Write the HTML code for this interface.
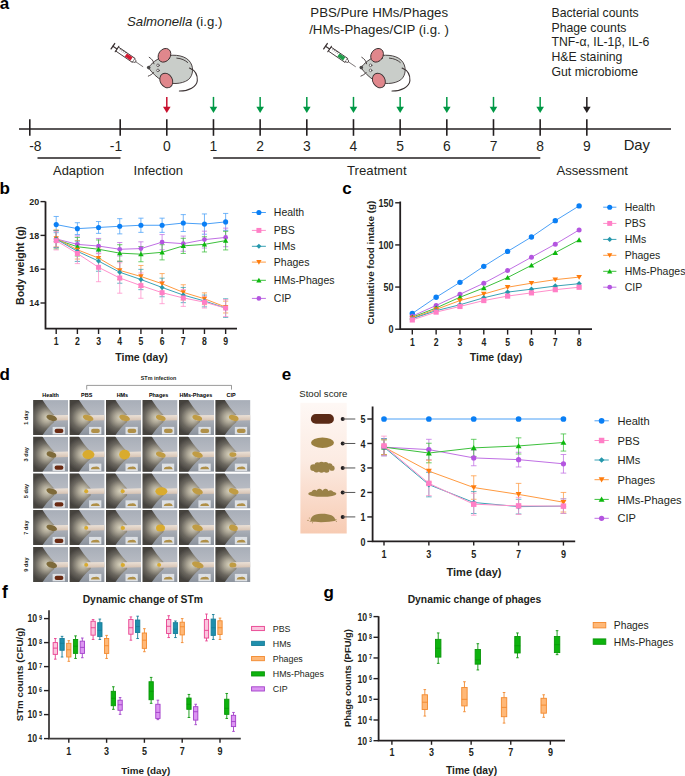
<!DOCTYPE html>
<html><head><meta charset="utf-8"><title>Figure</title>
<style>html,body{margin:0;padding:0;background:#fff;}body{width:685px;height:776px;overflow:hidden;}</style>
</head><body>
<svg width="685" height="776" viewBox="0 0 685 776" style="display:block">
<g font-family='"Liberation Sans", sans-serif'>
<text x="-0.30" y="9.20" font-size="17" font-weight="bold" text-anchor="start" fill="#000" >a</text>
<text x="127" y="26" font-size="13.2" fill="#231f20"><tspan font-style="italic">Salmonella</tspan> (i.g.)</text>
<text x="310.30" y="17.20" font-size="13.25" font-weight="normal" text-anchor="start" fill="#231f20" >PBS/Pure HMs/Phages</text>
<text x="309.20" y="33.70" font-size="13.25" font-weight="normal" text-anchor="start" fill="#231f20" >/HMs-Phages/CIP (i.g. )</text>
<text x="551.50" y="16.60" font-size="12.25" font-weight="normal" text-anchor="start" fill="#231f20" >Bacterial counts</text>
<text x="551.50" y="31.50" font-size="12.25" font-weight="normal" text-anchor="start" fill="#231f20" >Phage counts</text>
<text x="551.50" y="46.40" font-size="12.25" font-weight="normal" text-anchor="start" fill="#231f20" >TNF-&#945;, IL-1&#946;, IL-6</text>
<text x="551.50" y="61.30" font-size="12.25" font-weight="normal" text-anchor="start" fill="#231f20" >H&amp;E staining</text>
<text x="551.50" y="76.20" font-size="12.25" font-weight="normal" text-anchor="start" fill="#231f20" >Gut microbiome</text>
<g transform="translate(148.70,67.30)" stroke="#3a3132" stroke-linecap="round" stroke-linejoin="round">
<g transform="translate(-35.8,-21.1) rotate(34.3)">
<line x1="0" y1="-3.2" x2="0" y2="3.2" stroke-width="1.3"/>
<line x1="0" y1="0" x2="5" y2="0" stroke-width="1.1"/>
<line x1="5" y1="-3.3" x2="5" y2="3.3" stroke-width="1.1"/>
<rect x="5.6" y="-2.4" width="19.6" height="4.8" fill="#ffffff" stroke-width="0.85"/>
<rect x="15.6" y="-1.9" width="7" height="3.8" fill="#d41a32" stroke="none"/>
<line x1="8" y1="-2.4" x2="8" y2="-0.9" stroke-width="0.5"/>
<line x1="10" y1="-2.4" x2="10" y2="-0.9" stroke-width="0.5"/>
<line x1="12" y1="-2.4" x2="12" y2="-0.9" stroke-width="0.5"/>
<line x1="14" y1="-2.4" x2="14" y2="-0.9" stroke-width="0.5"/>
<path d="M25.2 -1.7 L27.6 -0.9 L27.6 0.9 L25.2 1.7" fill="#fff" stroke-width="0.7"/>
<line x1="27.6" y1="0" x2="36.2" y2="0" stroke-width="0.6"/>
</g>
<path d="M-0.4 0.3 C3 -4 8 -8.5 14 -10.5 C22 -13 34 -13 40 -7 C45.5 -1.5 45 8 39.5 12.5 C33 17 22 17.5 14 13.5 C8 10.5 3 5 -0.4 0.3 Z" fill="#c9cdc9" stroke-width="0.9"/>
<path d="M40.8 0.8 C46 3 49 8 48.6 13.5 C48 19.5 40 23.8 30.7 23.7" fill="none" stroke-width="1.1"/>
<path d="M28.1 -9.2 C33 -8.8 36.5 -7 39 -4.8" fill="none" stroke-width="0.9"/>
<ellipse cx="15.8" cy="-12.0" rx="5.9" ry="7.3" transform="rotate(35 15.8 -12.0)" fill="#e0878c" stroke-width="0.9"/>
<ellipse cx="17.6" cy="13.2" rx="6.1" ry="7.6" transform="rotate(-30 17.6 13.2)" fill="#e0878c" stroke-width="0.9"/>
<circle cx="9.3" cy="-2.0" r="1.3" fill="#fff" stroke-width="0.7"/>
<circle cx="9.3" cy="3.1" r="1.3" fill="#fff" stroke-width="0.7"/>
<circle cx="0" cy="0.3" r="1.8" fill="#4a4848" stroke="none"/>
<path d="M0.5 -10 C3 -8.5 4.8 -6.5 5.3 -3.5" fill="none" stroke-width="0.9"/>
<path d="M-0.4 8.8 C1.5 8 3.5 7 4.9 5.2" fill="none" stroke-width="0.9"/>
</g>
<g transform="translate(361.30,67.30)" stroke="#3a3132" stroke-linecap="round" stroke-linejoin="round">
<g transform="translate(-35.8,-21.1) rotate(34.3)">
<line x1="0" y1="-3.2" x2="0" y2="3.2" stroke-width="1.3"/>
<line x1="0" y1="0" x2="5" y2="0" stroke-width="1.1"/>
<line x1="5" y1="-3.3" x2="5" y2="3.3" stroke-width="1.1"/>
<rect x="5.6" y="-2.4" width="19.6" height="4.8" fill="#ffffff" stroke-width="0.85"/>
<rect x="15.6" y="-1.9" width="7" height="3.8" fill="#1f9e4a" stroke="none"/>
<line x1="8" y1="-2.4" x2="8" y2="-0.9" stroke-width="0.5"/>
<line x1="10" y1="-2.4" x2="10" y2="-0.9" stroke-width="0.5"/>
<line x1="12" y1="-2.4" x2="12" y2="-0.9" stroke-width="0.5"/>
<line x1="14" y1="-2.4" x2="14" y2="-0.9" stroke-width="0.5"/>
<path d="M25.2 -1.7 L27.6 -0.9 L27.6 0.9 L25.2 1.7" fill="#fff" stroke-width="0.7"/>
<line x1="27.6" y1="0" x2="36.2" y2="0" stroke-width="0.6"/>
</g>
<path d="M-0.4 0.3 C3 -4 8 -8.5 14 -10.5 C22 -13 34 -13 40 -7 C45.5 -1.5 45 8 39.5 12.5 C33 17 22 17.5 14 13.5 C8 10.5 3 5 -0.4 0.3 Z" fill="#c9cdc9" stroke-width="0.9"/>
<path d="M40.8 0.8 C46 3 49 8 48.6 13.5 C48 19.5 40 23.8 30.7 23.7" fill="none" stroke-width="1.1"/>
<path d="M28.1 -9.2 C33 -8.8 36.5 -7 39 -4.8" fill="none" stroke-width="0.9"/>
<ellipse cx="15.8" cy="-12.0" rx="5.9" ry="7.3" transform="rotate(35 15.8 -12.0)" fill="#e0878c" stroke-width="0.9"/>
<ellipse cx="17.6" cy="13.2" rx="6.1" ry="7.6" transform="rotate(-30 17.6 13.2)" fill="#e0878c" stroke-width="0.9"/>
<circle cx="9.3" cy="-2.0" r="1.3" fill="#fff" stroke-width="0.7"/>
<circle cx="9.3" cy="3.1" r="1.3" fill="#fff" stroke-width="0.7"/>
<circle cx="0" cy="0.3" r="1.8" fill="#4a4848" stroke="none"/>
<path d="M0.5 -10 C3 -8.5 4.8 -6.5 5.3 -3.5" fill="none" stroke-width="0.9"/>
<path d="M-0.4 8.8 C1.5 8 3.5 7 4.9 5.2" fill="none" stroke-width="0.9"/>
</g>
<line x1="19.00" y1="129.00" x2="671.00" y2="129.00" stroke="#231f20" stroke-width="1.6" />
<line x1="29.80" y1="119.20" x2="29.80" y2="135.80" stroke="#231f20" stroke-width="1.6" />
<text transform="translate(29.20 151.10) scale(0.97 1)" font-size="14.3" font-weight="normal" text-anchor="start" fill="#231f20">-8</text>
<line x1="120.20" y1="119.20" x2="120.20" y2="135.80" stroke="#231f20" stroke-width="1.6" />
<text transform="translate(122.10 151.10) scale(0.97 1)" font-size="14.3" font-weight="normal" text-anchor="end" fill="#231f20">-1</text>
<line x1="166.80" y1="119.20" x2="166.80" y2="135.80" stroke="#231f20" stroke-width="1.6" />
<text transform="translate(166.80 151.10) scale(0.97 1)" font-size="14.3" font-weight="normal" text-anchor="middle" fill="#231f20">0</text>
<line x1="213.47" y1="119.20" x2="213.47" y2="135.80" stroke="#231f20" stroke-width="1.6" />
<text transform="translate(213.47 151.10) scale(0.97 1)" font-size="14.3" font-weight="normal" text-anchor="middle" fill="#231f20">1</text>
<line x1="260.14" y1="119.20" x2="260.14" y2="135.80" stroke="#231f20" stroke-width="1.6" />
<text transform="translate(260.14 151.10) scale(0.97 1)" font-size="14.3" font-weight="normal" text-anchor="middle" fill="#231f20">2</text>
<line x1="306.81" y1="119.20" x2="306.81" y2="135.80" stroke="#231f20" stroke-width="1.6" />
<text transform="translate(306.81 151.10) scale(0.97 1)" font-size="14.3" font-weight="normal" text-anchor="middle" fill="#231f20">3</text>
<line x1="353.48" y1="119.20" x2="353.48" y2="135.80" stroke="#231f20" stroke-width="1.6" />
<text transform="translate(353.48 151.10) scale(0.97 1)" font-size="14.3" font-weight="normal" text-anchor="middle" fill="#231f20">4</text>
<line x1="400.15" y1="119.20" x2="400.15" y2="135.80" stroke="#231f20" stroke-width="1.6" />
<text transform="translate(400.15 151.10) scale(0.97 1)" font-size="14.3" font-weight="normal" text-anchor="middle" fill="#231f20">5</text>
<line x1="446.82" y1="119.20" x2="446.82" y2="135.80" stroke="#231f20" stroke-width="1.6" />
<text transform="translate(446.82 151.10) scale(0.97 1)" font-size="14.3" font-weight="normal" text-anchor="middle" fill="#231f20">6</text>
<line x1="493.49" y1="119.20" x2="493.49" y2="135.80" stroke="#231f20" stroke-width="1.6" />
<text transform="translate(493.49 151.10) scale(0.97 1)" font-size="14.3" font-weight="normal" text-anchor="middle" fill="#231f20">7</text>
<line x1="540.16" y1="119.20" x2="540.16" y2="135.80" stroke="#231f20" stroke-width="1.6" />
<text transform="translate(540.16 151.10) scale(0.97 1)" font-size="14.3" font-weight="normal" text-anchor="middle" fill="#231f20">8</text>
<line x1="586.83" y1="119.20" x2="586.83" y2="135.80" stroke="#231f20" stroke-width="1.6" />
<text transform="translate(586.83 151.10) scale(0.97 1)" font-size="14.3" font-weight="normal" text-anchor="middle" fill="#231f20">9</text>
<text x="623.70" y="150.20" font-size="14.8" font-weight="normal" text-anchor="start" fill="#231f20" >Day</text>
<line x1="166.80" y1="96.90" x2="166.80" y2="108.50" stroke="#c8102e" stroke-width="1.5" />
<path d="M163.00 106.8 L170.60 106.8 L166.80 113.0 Z" fill="#c8102e"/>
<line x1="213.47" y1="96.90" x2="213.47" y2="108.50" stroke="#009845" stroke-width="1.5" />
<path d="M209.67 106.8 L217.27 106.8 L213.47 113.0 Z" fill="#009845"/>
<line x1="260.14" y1="96.90" x2="260.14" y2="108.50" stroke="#009845" stroke-width="1.5" />
<path d="M256.34 106.8 L263.94 106.8 L260.14 113.0 Z" fill="#009845"/>
<line x1="306.81" y1="96.90" x2="306.81" y2="108.50" stroke="#009845" stroke-width="1.5" />
<path d="M303.01 106.8 L310.61 106.8 L306.81 113.0 Z" fill="#009845"/>
<line x1="353.48" y1="96.90" x2="353.48" y2="108.50" stroke="#009845" stroke-width="1.5" />
<path d="M349.68 106.8 L357.28 106.8 L353.48 113.0 Z" fill="#009845"/>
<line x1="400.15" y1="96.90" x2="400.15" y2="108.50" stroke="#009845" stroke-width="1.5" />
<path d="M396.35 106.8 L403.95 106.8 L400.15 113.0 Z" fill="#009845"/>
<line x1="446.82" y1="96.90" x2="446.82" y2="108.50" stroke="#009845" stroke-width="1.5" />
<path d="M443.02 106.8 L450.62 106.8 L446.82 113.0 Z" fill="#009845"/>
<line x1="493.49" y1="96.90" x2="493.49" y2="108.50" stroke="#009845" stroke-width="1.5" />
<path d="M489.69 106.8 L497.29 106.8 L493.49 113.0 Z" fill="#009845"/>
<line x1="540.16" y1="96.90" x2="540.16" y2="108.50" stroke="#009845" stroke-width="1.5" />
<path d="M536.36 106.8 L543.96 106.8 L540.16 113.0 Z" fill="#009845"/>
<line x1="586.83" y1="96.90" x2="586.83" y2="108.50" stroke="#231f20" stroke-width="1.5" />
<path d="M583.03 106.8 L590.63 106.8 L586.83 113.0 Z" fill="#231f20"/>
<line x1="37.50" y1="158.00" x2="120.50" y2="158.00" stroke="#231f20" stroke-width="1.5" />
<line x1="213.20" y1="158.00" x2="540.30" y2="158.00" stroke="#231f20" stroke-width="1.5" />
<text x="53.00" y="174.70" font-size="12.95" font-weight="normal" text-anchor="start" fill="#231f20" >Adaption</text>
<text x="133.50" y="174.70" font-size="13.1" font-weight="normal" text-anchor="start" fill="#231f20" >Infection</text>
<text x="347.00" y="174.70" font-size="13.2" font-weight="normal" text-anchor="start" fill="#231f20" >Treatment</text>
<text x="556.40" y="174.70" font-size="13.15" font-weight="normal" text-anchor="start" fill="#231f20" >Assessment</text>
<text x="-0.40" y="193.60" font-size="17" font-weight="bold" text-anchor="start" fill="#000" >b</text>
<path d="M45.5 201.6 V328.6 H237" fill="none" stroke="#231f20" stroke-width="1.8"/>
<line x1="40.50" y1="201.60" x2="45.50" y2="201.60" stroke="#231f20" stroke-width="1.4" />
<text transform="translate(39.10 204.80) scale(0.9 1)" font-size="9.9" font-weight="bold" text-anchor="end" fill="#231f20">20</text>
<line x1="40.50" y1="235.40" x2="45.50" y2="235.40" stroke="#231f20" stroke-width="1.4" />
<text transform="translate(39.10 238.60) scale(0.9 1)" font-size="9.9" font-weight="bold" text-anchor="end" fill="#231f20">18</text>
<line x1="40.50" y1="269.20" x2="45.50" y2="269.20" stroke="#231f20" stroke-width="1.4" />
<text transform="translate(39.10 272.40) scale(0.9 1)" font-size="9.9" font-weight="bold" text-anchor="end" fill="#231f20">16</text>
<line x1="40.50" y1="303.00" x2="45.50" y2="303.00" stroke="#231f20" stroke-width="1.4" />
<text transform="translate(39.10 306.20) scale(0.9 1)" font-size="9.9" font-weight="bold" text-anchor="end" fill="#231f20">14</text>
<line x1="56.20" y1="328.60" x2="56.20" y2="334.00" stroke="#231f20" stroke-width="1.4" />
<text transform="translate(56.20 345.40) scale(0.86 1)" font-size="10.1" font-weight="bold" text-anchor="middle" fill="#231f20">1</text>
<line x1="77.38" y1="328.60" x2="77.38" y2="334.00" stroke="#231f20" stroke-width="1.4" />
<text transform="translate(77.38 345.40) scale(0.86 1)" font-size="10.1" font-weight="bold" text-anchor="middle" fill="#231f20">2</text>
<line x1="98.56" y1="328.60" x2="98.56" y2="334.00" stroke="#231f20" stroke-width="1.4" />
<text transform="translate(98.56 345.40) scale(0.86 1)" font-size="10.1" font-weight="bold" text-anchor="middle" fill="#231f20">3</text>
<line x1="119.74" y1="328.60" x2="119.74" y2="334.00" stroke="#231f20" stroke-width="1.4" />
<text transform="translate(119.74 345.40) scale(0.86 1)" font-size="10.1" font-weight="bold" text-anchor="middle" fill="#231f20">4</text>
<line x1="140.92" y1="328.60" x2="140.92" y2="334.00" stroke="#231f20" stroke-width="1.4" />
<text transform="translate(140.92 345.40) scale(0.86 1)" font-size="10.1" font-weight="bold" text-anchor="middle" fill="#231f20">5</text>
<line x1="162.10" y1="328.60" x2="162.10" y2="334.00" stroke="#231f20" stroke-width="1.4" />
<text transform="translate(162.10 345.40) scale(0.86 1)" font-size="10.1" font-weight="bold" text-anchor="middle" fill="#231f20">6</text>
<line x1="183.28" y1="328.60" x2="183.28" y2="334.00" stroke="#231f20" stroke-width="1.4" />
<text transform="translate(183.28 345.40) scale(0.86 1)" font-size="10.1" font-weight="bold" text-anchor="middle" fill="#231f20">7</text>
<line x1="204.46" y1="328.60" x2="204.46" y2="334.00" stroke="#231f20" stroke-width="1.4" />
<text transform="translate(204.46 345.40) scale(0.86 1)" font-size="10.1" font-weight="bold" text-anchor="middle" fill="#231f20">8</text>
<line x1="225.64" y1="328.60" x2="225.64" y2="334.00" stroke="#231f20" stroke-width="1.4" />
<text transform="translate(225.64 345.40) scale(0.86 1)" font-size="10.1" font-weight="bold" text-anchor="middle" fill="#231f20">9</text>
<text x="141.50" y="360.60" font-size="10.55" font-weight="bold" text-anchor="middle" fill="#231f20" >Time (day)</text>
<text transform="translate(23.6 265.5) rotate(-90)" font-size="10.5" font-weight="bold" text-anchor="middle" fill="#231f20">Body weight (g)</text>
<path d="M56.20 216.47V232.70M53.60 216.47h5.2M53.60 232.70h5.2" stroke="#4aa0f7" stroke-width="0.85" fill="none" opacity="0.9"/>
<path d="M77.38 222.72V234.56M74.78 222.72h5.2M74.78 234.56h5.2" stroke="#4aa0f7" stroke-width="0.85" fill="none" opacity="0.9"/>
<path d="M98.56 221.54V233.37M95.96 221.54h5.2M95.96 233.37h5.2" stroke="#4aa0f7" stroke-width="0.85" fill="none" opacity="0.9"/>
<path d="M119.74 218.67V233.88M117.14 218.67h5.2M117.14 233.88h5.2" stroke="#4aa0f7" stroke-width="0.85" fill="none" opacity="0.9"/>
<path d="M140.92 218.16V232.36M138.32 218.16h5.2M138.32 232.36h5.2" stroke="#4aa0f7" stroke-width="0.85" fill="none" opacity="0.9"/>
<path d="M162.10 218.16V232.36M159.50 218.16h5.2M159.50 232.36h5.2" stroke="#4aa0f7" stroke-width="0.85" fill="none" opacity="0.9"/>
<path d="M183.28 214.61V231.51M180.68 214.61h5.2M180.68 231.51h5.2" stroke="#4aa0f7" stroke-width="0.85" fill="none" opacity="0.9"/>
<path d="M204.46 213.94V234.22M201.86 213.94h5.2M201.86 234.22h5.2" stroke="#4aa0f7" stroke-width="0.85" fill="none" opacity="0.9"/>
<path d="M225.64 213.43V230.33M223.04 213.43h5.2M223.04 230.33h5.2" stroke="#4aa0f7" stroke-width="0.85" fill="none" opacity="0.9"/>
<path d="M56.20 230.50V247.40M53.60 230.50h5.2M53.60 247.40h5.2" stroke="#c070e4" stroke-width="0.85" fill="none" opacity="0.9"/>
<path d="M77.38 235.91V252.81M74.78 235.91h5.2M74.78 252.81h5.2" stroke="#c070e4" stroke-width="0.85" fill="none" opacity="0.9"/>
<path d="M98.56 238.44V253.65M95.96 238.44h5.2M95.96 253.65h5.2" stroke="#c070e4" stroke-width="0.85" fill="none" opacity="0.9"/>
<path d="M119.74 242.50V256.02M117.14 242.50h5.2M117.14 256.02h5.2" stroke="#c070e4" stroke-width="0.85" fill="none" opacity="0.9"/>
<path d="M140.92 241.82V255.34M138.32 241.82h5.2M138.32 255.34h5.2" stroke="#c070e4" stroke-width="0.85" fill="none" opacity="0.9"/>
<path d="M162.10 234.55V249.76M159.50 234.55h5.2M159.50 249.76h5.2" stroke="#c070e4" stroke-width="0.85" fill="none" opacity="0.9"/>
<path d="M183.28 236.08V251.29M180.68 236.08h5.2M180.68 251.29h5.2" stroke="#c070e4" stroke-width="0.85" fill="none" opacity="0.9"/>
<path d="M204.46 231.17V248.07M201.86 231.17h5.2M201.86 248.07h5.2" stroke="#c070e4" stroke-width="0.85" fill="none" opacity="0.9"/>
<path d="M225.64 228.13V246.72M223.04 228.13h5.2M223.04 246.72h5.2" stroke="#c070e4" stroke-width="0.85" fill="none" opacity="0.9"/>
<path d="M56.20 230.33V248.92M53.60 230.33h5.2M53.60 248.92h5.2" stroke="#3cc03c" stroke-width="0.85" fill="none" opacity="0.9"/>
<path d="M77.38 237.43V256.02M74.78 237.43h5.2M74.78 256.02h5.2" stroke="#3cc03c" stroke-width="0.85" fill="none" opacity="0.9"/>
<path d="M98.56 239.96V258.55M95.96 239.96h5.2M95.96 258.55h5.2" stroke="#3cc03c" stroke-width="0.85" fill="none" opacity="0.9"/>
<path d="M119.74 244.69V261.60M117.14 244.69h5.2M117.14 261.60h5.2" stroke="#3cc03c" stroke-width="0.85" fill="none" opacity="0.9"/>
<path d="M140.92 246.55V261.76M138.32 246.55h5.2M138.32 261.76h5.2" stroke="#3cc03c" stroke-width="0.85" fill="none" opacity="0.9"/>
<path d="M162.10 244.69V259.90M159.50 244.69h5.2M159.50 259.90h5.2" stroke="#3cc03c" stroke-width="0.85" fill="none" opacity="0.9"/>
<path d="M183.28 238.27V253.48M180.68 238.27h5.2M180.68 253.48h5.2" stroke="#3cc03c" stroke-width="0.85" fill="none" opacity="0.9"/>
<path d="M204.46 236.75V251.96M201.86 236.75h5.2M201.86 251.96h5.2" stroke="#3cc03c" stroke-width="0.85" fill="none" opacity="0.9"/>
<path d="M225.64 231.34V249.93M223.04 231.34h5.2M223.04 249.93h5.2" stroke="#3cc03c" stroke-width="0.85" fill="none" opacity="0.9"/>
<path d="M56.20 229.99V246.89M53.60 229.99h5.2M53.60 246.89h5.2" stroke="#ff9a40" stroke-width="0.85" fill="none" opacity="0.9"/>
<path d="M77.38 240.47V259.06M74.78 240.47h5.2M74.78 259.06h5.2" stroke="#ff9a40" stroke-width="0.85" fill="none" opacity="0.9"/>
<path d="M98.56 247.91V268.19M95.96 247.91h5.2M95.96 268.19h5.2" stroke="#ff9a40" stroke-width="0.85" fill="none" opacity="0.9"/>
<path d="M119.74 261.09V279.68M117.14 261.09h5.2M117.14 279.68h5.2" stroke="#ff9a40" stroke-width="0.85" fill="none" opacity="0.9"/>
<path d="M140.92 265.48V287.45M138.32 265.48h5.2M138.32 287.45h5.2" stroke="#ff9a40" stroke-width="0.85" fill="none" opacity="0.9"/>
<path d="M162.10 273.59V293.87M159.50 273.59h5.2M159.50 293.87h5.2" stroke="#ff9a40" stroke-width="0.85" fill="none" opacity="0.9"/>
<path d="M183.28 284.75V299.96M180.68 284.75h5.2M180.68 299.96h5.2" stroke="#ff9a40" stroke-width="0.85" fill="none" opacity="0.9"/>
<path d="M204.46 292.86V304.69M201.86 292.86h5.2M201.86 304.69h5.2" stroke="#ff9a40" stroke-width="0.85" fill="none" opacity="0.9"/>
<path d="M225.64 301.14V312.97M223.04 301.14h5.2M223.04 312.97h5.2" stroke="#ff9a40" stroke-width="0.85" fill="none" opacity="0.9"/>
<path d="M56.20 230.67V247.57M53.60 230.67h5.2M53.60 247.57h5.2" stroke="#3aa2b5" stroke-width="0.85" fill="none" opacity="0.9"/>
<path d="M77.38 241.15V261.43M74.78 241.15h5.2M74.78 261.43h5.2" stroke="#3aa2b5" stroke-width="0.85" fill="none" opacity="0.9"/>
<path d="M98.56 250.95V271.23M95.96 250.95h5.2M95.96 271.23h5.2" stroke="#3aa2b5" stroke-width="0.85" fill="none" opacity="0.9"/>
<path d="M119.74 261.26V283.23M117.14 261.26h5.2M117.14 283.23h5.2" stroke="#3aa2b5" stroke-width="0.85" fill="none" opacity="0.9"/>
<path d="M140.92 269.37V289.65M138.32 269.37h5.2M138.32 289.65h5.2" stroke="#3aa2b5" stroke-width="0.85" fill="none" opacity="0.9"/>
<path d="M162.10 278.16V296.75M159.50 278.16h5.2M159.50 296.75h5.2" stroke="#3aa2b5" stroke-width="0.85" fill="none" opacity="0.9"/>
<path d="M183.28 287.45V302.66M180.68 287.45h5.2M180.68 302.66h5.2" stroke="#3aa2b5" stroke-width="0.85" fill="none" opacity="0.9"/>
<path d="M204.46 295.06V306.89M201.86 295.06h5.2M201.86 306.89h5.2" stroke="#3aa2b5" stroke-width="0.85" fill="none" opacity="0.9"/>
<path d="M225.64 298.77V317.37M223.04 298.77h5.2M223.04 317.37h5.2" stroke="#3aa2b5" stroke-width="0.85" fill="none" opacity="0.9"/>
<path d="M56.20 231.34V249.93M53.60 231.34h5.2M53.60 249.93h5.2" stroke="#ff8fcb" stroke-width="0.85" fill="none" opacity="0.9"/>
<path d="M77.38 243.34V263.62M74.78 243.34h5.2M74.78 263.62h5.2" stroke="#ff8fcb" stroke-width="0.85" fill="none" opacity="0.9"/>
<path d="M98.56 252.98V281.71M95.96 252.98h5.2M95.96 281.71h5.2" stroke="#ff8fcb" stroke-width="0.85" fill="none" opacity="0.9"/>
<path d="M119.74 262.78V293.20M117.14 262.78h5.2M117.14 293.20h5.2" stroke="#ff8fcb" stroke-width="0.85" fill="none" opacity="0.9"/>
<path d="M140.92 272.92V298.27M138.32 272.92h5.2M138.32 298.27h5.2" stroke="#ff8fcb" stroke-width="0.85" fill="none" opacity="0.9"/>
<path d="M162.10 281.71V303.68M159.50 281.71h5.2M159.50 303.68h5.2" stroke="#ff8fcb" stroke-width="0.85" fill="none" opacity="0.9"/>
<path d="M183.28 289.48V306.38M180.68 289.48h5.2M180.68 306.38h5.2" stroke="#ff8fcb" stroke-width="0.85" fill="none" opacity="0.9"/>
<path d="M204.46 296.24V308.07M201.86 296.24h5.2M201.86 308.07h5.2" stroke="#ff8fcb" stroke-width="0.85" fill="none" opacity="0.9"/>
<path d="M225.64 299.62V316.52M223.04 299.62h5.2M223.04 316.52h5.2" stroke="#ff8fcb" stroke-width="0.85" fill="none" opacity="0.9"/>
<polyline points="56.20,224.58 77.38,228.64 98.56,227.46 119.74,226.27 140.92,225.26 162.10,225.26 183.28,223.06 204.46,224.08 225.64,221.88" fill="none" stroke="#4aa0f7" stroke-width="1"/>
<circle cx="56.20" cy="224.58" r="2.56" fill="#0a7ff5"/>
<circle cx="77.38" cy="228.64" r="2.56" fill="#0a7ff5"/>
<circle cx="98.56" cy="227.46" r="2.56" fill="#0a7ff5"/>
<circle cx="119.74" cy="226.27" r="2.56" fill="#0a7ff5"/>
<circle cx="140.92" cy="225.26" r="2.56" fill="#0a7ff5"/>
<circle cx="162.10" cy="225.26" r="2.56" fill="#0a7ff5"/>
<circle cx="183.28" cy="223.06" r="2.56" fill="#0a7ff5"/>
<circle cx="204.46" cy="224.08" r="2.56" fill="#0a7ff5"/>
<circle cx="225.64" cy="221.88" r="2.56" fill="#0a7ff5"/>
<polyline points="56.20,238.95 77.38,244.36 98.56,246.05 119.74,249.26 140.92,248.58 162.10,242.16 183.28,243.68 204.46,239.62 225.64,237.43" fill="none" stroke="#c070e4" stroke-width="1"/>
<circle cx="56.20" cy="238.95" r="2.38" fill="#b455e0"/>
<circle cx="77.38" cy="244.36" r="2.38" fill="#b455e0"/>
<circle cx="98.56" cy="246.05" r="2.38" fill="#b455e0"/>
<circle cx="119.74" cy="249.26" r="2.38" fill="#b455e0"/>
<circle cx="140.92" cy="248.58" r="2.38" fill="#b455e0"/>
<circle cx="162.10" cy="242.16" r="2.38" fill="#b455e0"/>
<circle cx="183.28" cy="243.68" r="2.38" fill="#b455e0"/>
<circle cx="204.46" cy="239.62" r="2.38" fill="#b455e0"/>
<circle cx="225.64" cy="237.43" r="2.38" fill="#b455e0"/>
<polyline points="56.20,239.62 77.38,246.72 98.56,249.26 119.74,253.15 140.92,254.16 162.10,252.30 183.28,245.88 204.46,244.36 225.64,240.64" fill="none" stroke="#3cc03c" stroke-width="1"/>
<path d="M53.54 241.75L58.86 241.75L56.20 237.10Z" fill="#0db80d"/>
<path d="M74.72 248.85L80.04 248.85L77.38 244.20Z" fill="#0db80d"/>
<path d="M95.90 251.39L101.22 251.39L98.56 246.73Z" fill="#0db80d"/>
<path d="M117.08 255.27L122.40 255.27L119.74 250.62Z" fill="#0db80d"/>
<path d="M138.26 256.29L143.58 256.29L140.92 251.63Z" fill="#0db80d"/>
<path d="M159.44 254.43L164.76 254.43L162.10 249.77Z" fill="#0db80d"/>
<path d="M180.62 248.01L185.94 248.01L183.28 243.35Z" fill="#0db80d"/>
<path d="M201.80 246.48L207.12 246.48L204.46 241.83Z" fill="#0db80d"/>
<path d="M222.98 242.77L228.30 242.77L225.64 238.11Z" fill="#0db80d"/>
<polyline points="56.20,238.44 77.38,249.77 98.56,258.05 119.74,270.38 140.92,276.47 162.10,283.73 183.28,292.35 204.46,298.77 225.64,307.06" fill="none" stroke="#ff9a40" stroke-width="1"/>
<path d="M53.54 236.31L58.86 236.31L56.20 240.97Z" fill="#ff7c0c"/>
<path d="M74.72 247.64L80.04 247.64L77.38 252.29Z" fill="#ff7c0c"/>
<path d="M95.90 255.92L101.22 255.92L98.56 260.57Z" fill="#ff7c0c"/>
<path d="M117.08 268.25L122.40 268.25L119.74 272.91Z" fill="#ff7c0c"/>
<path d="M138.26 274.34L143.58 274.34L140.92 278.99Z" fill="#ff7c0c"/>
<path d="M159.44 281.61L164.76 281.61L162.10 286.26Z" fill="#ff7c0c"/>
<path d="M180.62 290.22L185.94 290.22L183.28 294.88Z" fill="#ff7c0c"/>
<path d="M201.80 296.65L207.12 296.65L204.46 301.30Z" fill="#ff7c0c"/>
<path d="M222.98 304.93L228.30 304.93L225.64 309.58Z" fill="#ff7c0c"/>
<polyline points="56.20,239.12 77.38,251.29 98.56,261.09 119.74,272.24 140.92,279.51 162.10,287.45 183.28,295.06 204.46,300.97 225.64,308.07" fill="none" stroke="#3aa2b5" stroke-width="1"/>
<path d="M56.20 236.55L58.77 239.12L56.20 241.68L53.64 239.12Z" fill="#2597ab"/>
<path d="M77.38 248.72L79.94 251.29L77.38 253.85L74.81 251.29Z" fill="#2597ab"/>
<path d="M98.56 258.52L101.12 261.09L98.56 263.65L96.00 261.09Z" fill="#2597ab"/>
<path d="M119.74 269.68L122.31 272.24L119.74 274.81L117.18 272.24Z" fill="#2597ab"/>
<path d="M140.92 276.94L143.49 279.51L140.92 282.07L138.36 279.51Z" fill="#2597ab"/>
<path d="M162.10 284.89L164.67 287.45L162.10 290.02L159.54 287.45Z" fill="#2597ab"/>
<path d="M183.28 292.49L185.84 295.06L183.28 297.62L180.72 295.06Z" fill="#2597ab"/>
<path d="M204.46 298.41L207.02 300.97L204.46 303.54L201.89 300.97Z" fill="#2597ab"/>
<path d="M225.64 305.50L228.20 308.07L225.64 310.63L223.07 308.07Z" fill="#2597ab"/>
<polyline points="56.20,240.64 77.38,253.48 98.56,267.34 119.74,277.99 140.92,285.59 162.10,292.69 183.28,297.93 204.46,302.15 225.64,308.07" fill="none" stroke="#ff8fcb" stroke-width="1"/>
<rect x="53.73" y="238.17" width="4.94" height="4.94" fill="#ff7fc6"/>
<rect x="74.91" y="251.01" width="4.94" height="4.94" fill="#ff7fc6"/>
<rect x="96.09" y="264.87" width="4.94" height="4.94" fill="#ff7fc6"/>
<rect x="117.27" y="275.52" width="4.94" height="4.94" fill="#ff7fc6"/>
<rect x="138.45" y="283.12" width="4.94" height="4.94" fill="#ff7fc6"/>
<rect x="159.63" y="290.22" width="4.94" height="4.94" fill="#ff7fc6"/>
<rect x="180.81" y="295.46" width="4.94" height="4.94" fill="#ff7fc6"/>
<rect x="201.99" y="299.68" width="4.94" height="4.94" fill="#ff7fc6"/>
<rect x="223.17" y="305.60" width="4.94" height="4.94" fill="#ff7fc6"/>
<line x1="251.90" y1="212.50" x2="265.90" y2="212.50" stroke="#4aa0f7" stroke-width="1" />
<circle cx="258.90" cy="212.50" r="2.56" fill="#0a7ff5"/>
<text x="273.80" y="216.10" font-size="10.5" font-weight="normal" text-anchor="start" fill="#231f20" >Health</text>
<line x1="251.90" y1="230.40" x2="265.90" y2="230.40" stroke="#ff8fcb" stroke-width="1" />
<rect x="256.43" y="227.93" width="4.94" height="4.94" fill="#ff7fc6"/>
<text x="273.80" y="234.00" font-size="10.5" font-weight="normal" text-anchor="start" fill="#231f20" >PBS</text>
<line x1="251.90" y1="246.30" x2="265.90" y2="246.30" stroke="#3aa2b5" stroke-width="1" />
<path d="M258.90 243.74L261.46 246.30L258.90 248.87L256.33 246.30Z" fill="#2597ab"/>
<text x="273.80" y="249.90" font-size="10.5" font-weight="normal" text-anchor="start" fill="#231f20" >HMs</text>
<line x1="251.90" y1="262.10" x2="265.90" y2="262.10" stroke="#ff9a40" stroke-width="1" />
<path d="M256.24 259.97L261.56 259.97L258.90 264.63Z" fill="#ff7c0c"/>
<text x="273.80" y="265.70" font-size="10.5" font-weight="normal" text-anchor="start" fill="#231f20" >Phages</text>
<line x1="251.90" y1="280.30" x2="265.90" y2="280.30" stroke="#3cc03c" stroke-width="1" />
<path d="M256.24 282.43L261.56 282.43L258.90 277.77Z" fill="#0db80d"/>
<text x="273.80" y="283.90" font-size="10.5" font-weight="normal" text-anchor="start" fill="#231f20" >HMs-Phages</text>
<line x1="251.90" y1="298.40" x2="265.90" y2="298.40" stroke="#c070e4" stroke-width="1" />
<circle cx="258.90" cy="298.40" r="2.38" fill="#b455e0"/>
<text x="273.80" y="302.00" font-size="10.5" font-weight="normal" text-anchor="start" fill="#231f20" >CIP</text>
<text x="342.20" y="193.80" font-size="17" font-weight="bold" text-anchor="start" fill="#000" >c</text>
<path d="M400.2 201.5 V329.2 H592" fill="none" stroke="#231f20" stroke-width="1.8"/>
<line x1="395.20" y1="329.20" x2="400.20" y2="329.20" stroke="#231f20" stroke-width="1.4" />
<text transform="translate(393.60 333.00) scale(0.9 1)" font-size="10.0" font-weight="bold" text-anchor="end" fill="#231f20">0</text>
<line x1="395.20" y1="287.06" x2="400.20" y2="287.06" stroke="#231f20" stroke-width="1.4" />
<text transform="translate(393.60 290.87) scale(0.9 1)" font-size="10.0" font-weight="bold" text-anchor="end" fill="#231f20">50</text>
<line x1="395.20" y1="244.93" x2="400.20" y2="244.93" stroke="#231f20" stroke-width="1.4" />
<text transform="translate(393.60 248.73) scale(0.9 1)" font-size="10.0" font-weight="bold" text-anchor="end" fill="#231f20">100</text>
<line x1="395.20" y1="202.79" x2="400.20" y2="202.79" stroke="#231f20" stroke-width="1.4" />
<text transform="translate(393.60 206.59) scale(0.9 1)" font-size="10.0" font-weight="bold" text-anchor="end" fill="#231f20">150</text>
<line x1="412.30" y1="329.20" x2="412.30" y2="334.60" stroke="#231f20" stroke-width="1.4" />
<text transform="translate(412.30 345.80) scale(0.86 1)" font-size="10.1" font-weight="bold" text-anchor="middle" fill="#231f20">1</text>
<line x1="436.13" y1="329.20" x2="436.13" y2="334.60" stroke="#231f20" stroke-width="1.4" />
<text transform="translate(436.13 345.80) scale(0.86 1)" font-size="10.1" font-weight="bold" text-anchor="middle" fill="#231f20">2</text>
<line x1="459.96" y1="329.20" x2="459.96" y2="334.60" stroke="#231f20" stroke-width="1.4" />
<text transform="translate(459.96 345.80) scale(0.86 1)" font-size="10.1" font-weight="bold" text-anchor="middle" fill="#231f20">3</text>
<line x1="483.79" y1="329.20" x2="483.79" y2="334.60" stroke="#231f20" stroke-width="1.4" />
<text transform="translate(483.79 345.80) scale(0.86 1)" font-size="10.1" font-weight="bold" text-anchor="middle" fill="#231f20">4</text>
<line x1="507.62" y1="329.20" x2="507.62" y2="334.60" stroke="#231f20" stroke-width="1.4" />
<text transform="translate(507.62 345.80) scale(0.86 1)" font-size="10.1" font-weight="bold" text-anchor="middle" fill="#231f20">5</text>
<line x1="531.45" y1="329.20" x2="531.45" y2="334.60" stroke="#231f20" stroke-width="1.4" />
<text transform="translate(531.45 345.80) scale(0.86 1)" font-size="10.1" font-weight="bold" text-anchor="middle" fill="#231f20">6</text>
<line x1="555.28" y1="329.20" x2="555.28" y2="334.60" stroke="#231f20" stroke-width="1.4" />
<text transform="translate(555.28 345.80) scale(0.86 1)" font-size="10.1" font-weight="bold" text-anchor="middle" fill="#231f20">7</text>
<line x1="579.11" y1="329.20" x2="579.11" y2="334.60" stroke="#231f20" stroke-width="1.4" />
<text transform="translate(579.11 345.80) scale(0.86 1)" font-size="10.1" font-weight="bold" text-anchor="middle" fill="#231f20">8</text>
<text x="496.00" y="361.30" font-size="10.55" font-weight="bold" text-anchor="middle" fill="#231f20" >Time (day)</text>
<text transform="translate(374.4 262.6) rotate(-90)" font-size="9.9" font-weight="bold" text-anchor="middle" fill="#231f20">Cumulative food intake (g)</text>
<polyline points="412.30,313.44 436.13,297.26 459.96,282.35 483.79,266.33 507.62,251.42 531.45,237.01 555.28,220.66 579.11,205.91" fill="none" stroke="#4aa0f7" stroke-width="1"/>
<circle cx="412.30" cy="313.44" r="2.70" fill="#0a7ff5"/>
<circle cx="436.13" cy="297.26" r="2.70" fill="#0a7ff5"/>
<circle cx="459.96" cy="282.35" r="2.70" fill="#0a7ff5"/>
<circle cx="483.79" cy="266.33" r="2.70" fill="#0a7ff5"/>
<circle cx="507.62" cy="251.42" r="2.70" fill="#0a7ff5"/>
<circle cx="531.45" cy="237.01" r="2.70" fill="#0a7ff5"/>
<circle cx="555.28" cy="220.66" r="2.70" fill="#0a7ff5"/>
<circle cx="579.11" cy="205.91" r="2.70" fill="#0a7ff5"/>
<polyline points="412.30,316.14 436.13,305.44 459.96,294.31 483.79,283.19 507.62,270.38 531.45,257.23 555.28,244.17 579.11,229.93" fill="none" stroke="#c070e4" stroke-width="1"/>
<circle cx="412.30" cy="316.14" r="2.50" fill="#b455e0"/>
<circle cx="436.13" cy="305.44" r="2.50" fill="#b455e0"/>
<circle cx="459.96" cy="294.31" r="2.50" fill="#b455e0"/>
<circle cx="483.79" cy="283.19" r="2.50" fill="#b455e0"/>
<circle cx="507.62" cy="270.38" r="2.50" fill="#b455e0"/>
<circle cx="531.45" cy="257.23" r="2.50" fill="#b455e0"/>
<circle cx="555.28" cy="244.17" r="2.50" fill="#b455e0"/>
<circle cx="579.11" cy="229.93" r="2.50" fill="#b455e0"/>
<polyline points="412.30,317.23 436.13,307.96 459.96,297.26 483.79,287.91 507.62,277.54 531.45,265.32 555.28,252.68 579.11,239.96" fill="none" stroke="#3cc03c" stroke-width="1"/>
<path d="M409.50 319.47L415.10 319.47L412.30 314.57Z" fill="#0db80d"/>
<path d="M433.33 310.20L438.93 310.20L436.13 305.30Z" fill="#0db80d"/>
<path d="M457.16 299.50L462.76 299.50L459.96 294.60Z" fill="#0db80d"/>
<path d="M480.99 290.15L486.59 290.15L483.79 285.25Z" fill="#0db80d"/>
<path d="M504.82 279.78L510.42 279.78L507.62 274.88Z" fill="#0db80d"/>
<path d="M528.65 267.56L534.25 267.56L531.45 262.66Z" fill="#0db80d"/>
<path d="M552.48 254.92L558.08 254.92L555.28 250.02Z" fill="#0db80d"/>
<path d="M576.31 242.20L581.91 242.20L579.11 237.30Z" fill="#0db80d"/>
<polyline points="412.30,318.08 436.13,309.40 459.96,300.55 483.79,294.06 507.62,287.23 531.45,283.19 555.28,279.65 579.11,277.12" fill="none" stroke="#ff9a40" stroke-width="1"/>
<path d="M409.50 315.84L415.10 315.84L412.30 320.74Z" fill="#ff7c0c"/>
<path d="M433.33 307.16L438.93 307.16L436.13 312.06Z" fill="#ff7c0c"/>
<path d="M457.16 298.31L462.76 298.31L459.96 303.21Z" fill="#ff7c0c"/>
<path d="M480.99 291.82L486.59 291.82L483.79 296.72Z" fill="#ff7c0c"/>
<path d="M504.82 284.99L510.42 284.99L507.62 289.89Z" fill="#ff7c0c"/>
<path d="M528.65 280.95L534.25 280.95L531.45 285.85Z" fill="#ff7c0c"/>
<path d="M552.48 277.41L558.08 277.41L555.28 282.31Z" fill="#ff7c0c"/>
<path d="M576.31 274.88L581.91 274.88L579.11 279.78Z" fill="#ff7c0c"/>
<polyline points="412.30,318.67 436.13,310.66 459.96,304.76 483.79,297.77 507.62,292.12 531.45,289.17 555.28,286.05 579.11,283.69" fill="none" stroke="#3aa2b5" stroke-width="1"/>
<path d="M412.30 315.97L415.00 318.67L412.30 321.37L409.60 318.67Z" fill="#2597ab"/>
<path d="M436.13 307.96L438.83 310.66L436.13 313.36L433.43 310.66Z" fill="#2597ab"/>
<path d="M459.96 302.06L462.66 304.76L459.96 307.46L457.26 304.76Z" fill="#2597ab"/>
<path d="M483.79 295.07L486.49 297.77L483.79 300.47L481.09 297.77Z" fill="#2597ab"/>
<path d="M507.62 289.42L510.32 292.12L507.62 294.82L504.92 292.12Z" fill="#2597ab"/>
<path d="M531.45 286.47L534.15 289.17L531.45 291.87L528.75 289.17Z" fill="#2597ab"/>
<path d="M555.28 283.35L557.98 286.05L555.28 288.75L552.58 286.05Z" fill="#2597ab"/>
<path d="M579.11 280.99L581.81 283.69L579.11 286.39L576.41 283.69Z" fill="#2597ab"/>
<polyline points="412.30,319.93 436.13,312.09 459.96,306.45 483.79,300.55 507.62,296.08 531.45,292.88 555.28,289.68 579.11,287.23" fill="none" stroke="#ff8fcb" stroke-width="1"/>
<rect x="409.70" y="317.33" width="5.20" height="5.20" fill="#ff7fc6"/>
<rect x="433.53" y="309.49" width="5.20" height="5.20" fill="#ff7fc6"/>
<rect x="457.36" y="303.85" width="5.20" height="5.20" fill="#ff7fc6"/>
<rect x="481.19" y="297.95" width="5.20" height="5.20" fill="#ff7fc6"/>
<rect x="505.02" y="293.48" width="5.20" height="5.20" fill="#ff7fc6"/>
<rect x="528.85" y="290.28" width="5.20" height="5.20" fill="#ff7fc6"/>
<rect x="552.68" y="287.08" width="5.20" height="5.20" fill="#ff7fc6"/>
<rect x="576.51" y="284.63" width="5.20" height="5.20" fill="#ff7fc6"/>
<line x1="603.20" y1="207.20" x2="616.40" y2="207.20" stroke="#4aa0f7" stroke-width="1" />
<circle cx="609.70" cy="207.20" r="2.56" fill="#0a7ff5"/>
<text x="624.70" y="210.80" font-size="10.5" font-weight="normal" text-anchor="start" fill="#231f20" >Health</text>
<line x1="603.20" y1="223.40" x2="616.40" y2="223.40" stroke="#ff8fcb" stroke-width="1" />
<rect x="607.23" y="220.93" width="4.94" height="4.94" fill="#ff7fc6"/>
<text x="624.70" y="227.00" font-size="10.5" font-weight="normal" text-anchor="start" fill="#231f20" >PBS</text>
<line x1="603.20" y1="239.40" x2="616.40" y2="239.40" stroke="#3aa2b5" stroke-width="1" />
<path d="M609.70 236.84L612.27 239.40L609.70 241.97L607.13 239.40Z" fill="#2597ab"/>
<text x="624.70" y="243.00" font-size="10.5" font-weight="normal" text-anchor="start" fill="#231f20" >HMs</text>
<line x1="603.20" y1="255.30" x2="616.40" y2="255.30" stroke="#ff9a40" stroke-width="1" />
<path d="M607.04 253.17L612.36 253.17L609.70 257.83Z" fill="#ff7c0c"/>
<text x="624.70" y="258.90" font-size="10.5" font-weight="normal" text-anchor="start" fill="#231f20" >Phages</text>
<line x1="603.20" y1="271.30" x2="616.40" y2="271.30" stroke="#3cc03c" stroke-width="1" />
<path d="M607.04 273.43L612.36 273.43L609.70 268.77Z" fill="#0db80d"/>
<text x="624.70" y="274.90" font-size="10.5" font-weight="normal" text-anchor="start" fill="#231f20" >HMs-Phages</text>
<line x1="603.20" y1="287.20" x2="616.40" y2="287.20" stroke="#c070e4" stroke-width="1" />
<circle cx="609.70" cy="287.20" r="2.38" fill="#b455e0"/>
<text x="624.70" y="290.80" font-size="10.5" font-weight="normal" text-anchor="start" fill="#231f20" >CIP</text>
<text x="-0.50" y="380.20" font-size="17" font-weight="bold" text-anchor="start" fill="#000" >d</text>
<text x="50.60" y="396.80" font-size="5.45" font-weight="bold" text-anchor="middle" fill="#000" >Health</text>
<text x="86.70" y="396.80" font-size="5.45" font-weight="bold" text-anchor="middle" fill="#000" >PBS</text>
<text x="122.40" y="396.80" font-size="5.45" font-weight="bold" text-anchor="middle" fill="#000" >HMs</text>
<text x="158.60" y="396.80" font-size="5.45" font-weight="bold" text-anchor="middle" fill="#000" >Phages</text>
<text x="195.90" y="396.80" font-size="5.45" font-weight="bold" text-anchor="middle" fill="#000" >HMs-Phages</text>
<text x="231.10" y="396.80" font-size="5.45" font-weight="bold" text-anchor="middle" fill="#000" >CIP</text>
<path d="M86.7 389.6 V385.4 H231.5 V389.6" fill="none" stroke="#555" stroke-width="0.6"/>
<text x="158.60" y="379.90" font-size="5.4" font-weight="bold" text-anchor="middle" fill="#231f20" >STm infection</text>
<text transform="translate(28.2 417.60) rotate(-90)" font-size="5.6" font-weight="bold" text-anchor="middle" fill="#231f20">1 day</text>
<text transform="translate(28.2 454.30) rotate(-90)" font-size="5.6" font-weight="bold" text-anchor="middle" fill="#231f20">3 day</text>
<text transform="translate(28.2 491.00) rotate(-90)" font-size="5.6" font-weight="bold" text-anchor="middle" fill="#231f20">5 day</text>
<text transform="translate(28.2 527.60) rotate(-90)" font-size="5.6" font-weight="bold" text-anchor="middle" fill="#231f20">7 day</text>
<text transform="translate(28.2 564.60) rotate(-90)" font-size="5.6" font-weight="bold" text-anchor="middle" fill="#231f20">9 day</text>
<defs>
<linearGradient id="bg" x1="0" y1="0" x2="0" y2="1"><stop offset="0" stop-color="#a8aeb8"/><stop offset="0.4" stop-color="#b6bac2"/><stop offset="1" stop-color="#8c939d"/></linearGradient>
<radialGradient id="fur" gradientUnits="userSpaceOnUse" cx="13" cy="17.5" r="17" fx="14" fy="17.5"><stop offset="0" stop-color="#d8d2bc"/><stop offset="0.3" stop-color="#aca696"/><stop offset="0.65" stop-color="#6c6860"/><stop offset="1" stop-color="#45423e"/></radialGradient>
<filter id="soft" x="-0.2" y="-0.2" width="1.4" height="1.4"><feGaussianBlur stdDeviation="0.7"/></filter>
<linearGradient id="tail" x1="0" y1="0" x2="0" y2="1"><stop offset="0" stop-color="#ece2d8"/><stop offset="1" stop-color="#d6c2b2"/></linearGradient>
<linearGradient id="peach" x1="0" y1="0" x2="0" y2="1"><stop offset="0" stop-color="#fef8f5"/><stop offset="0.45" stop-color="#fcebe2"/><stop offset="1" stop-color="#f7cbb3"/></linearGradient>
</defs>
<svg x="33.20" y="400.10" width="35" height="35" viewBox="0 0 35 35" overflow="hidden">
<rect width="35" height="35" fill="url(#bg)"/>
<g filter="url(#soft)"><path d="M-2 -2 L8 -2 C12 4 16 10 21 15 L21 22 C16 26 12 31 8 37 L-2 37 Z" fill="url(#fur)"/>
</g>
<path d="M17 15.2 L35 14.8 L35 20.2 L17 20.6 Z" fill="url(#tail)"/>
<ellipse cx="18.52" cy="17.8" rx="5.5" ry="2.8" fill="#7e6a3a" transform="rotate(18 18.52 17.8)"/>
<rect x="19.4" y="26.8" width="12.3" height="7.4" fill="#dde0e4"/>
<rect x="21.4" y="28.7" width="8.8" height="4.3" rx="2.1" fill="#6a2a12"/>
</svg>
<svg x="69.65" y="400.10" width="35" height="35" viewBox="0 0 35 35" overflow="hidden">
<rect width="35" height="35" fill="url(#bg)"/>
<g filter="url(#soft)"><path d="M-2 -2 L8 -2 C12 4 16 10 21 15 L21 22 C16 26 12 31 8 37 L-2 37 Z" fill="url(#fur)"/>
</g>
<path d="M17 15.2 L35 14.8 L35 20.2 L17 20.6 Z" fill="url(#tail)"/>
<ellipse cx="18.52" cy="17.8" rx="5.5" ry="2.8" fill="#c09c44" transform="rotate(18 18.52 17.8)"/>
<rect x="19.4" y="26.8" width="12.3" height="7.4" fill="#dde0e4"/>
<rect x="21.4" y="28.7" width="8.8" height="4.3" rx="2.1" fill="#b09048"/>
</svg>
<svg x="106.10" y="400.10" width="35" height="35" viewBox="0 0 35 35" overflow="hidden">
<rect width="35" height="35" fill="url(#bg)"/>
<g filter="url(#soft)"><path d="M-2 -2 L8 -2 C12 4 16 10 21 15 L21 22 C16 26 12 31 8 37 L-2 37 Z" fill="url(#fur)"/>
</g>
<path d="M17 15.2 L35 14.8 L35 20.2 L17 20.6 Z" fill="url(#tail)"/>
<ellipse cx="18.52" cy="17.8" rx="5.5" ry="2.9" fill="#c09c44" transform="rotate(18 18.52 17.8)"/>
<rect x="19.4" y="26.8" width="12.3" height="7.4" fill="#dde0e4"/>
<rect x="21.4" y="28.7" width="8.8" height="4.3" rx="2.1" fill="#b09048"/>
</svg>
<svg x="142.55" y="400.10" width="35" height="35" viewBox="0 0 35 35" overflow="hidden">
<rect width="35" height="35" fill="url(#bg)"/>
<g filter="url(#soft)"><path d="M-2 -2 L8 -2 C12 4 16 10 21 15 L21 22 C16 26 12 31 8 37 L-2 37 Z" fill="url(#fur)"/>
</g>
<path d="M17 15.2 L35 14.8 L35 20.2 L17 20.6 Z" fill="url(#tail)"/>
<ellipse cx="18.25" cy="17.8" rx="5" ry="2.6" fill="#c09c44" transform="rotate(18 18.25 17.8)"/>
<rect x="19.4" y="26.8" width="12.3" height="7.4" fill="#dde0e4"/>
<rect x="21.4" y="28.7" width="8.8" height="4.3" rx="2.1" fill="#b09048"/>
</svg>
<svg x="179.00" y="400.10" width="35" height="35" viewBox="0 0 35 35" overflow="hidden">
<rect width="35" height="35" fill="url(#bg)"/>
<g filter="url(#soft)"><path d="M-2 -2 L8 -2 C12 4 16 10 21 15 L21 22 C16 26 12 31 8 37 L-2 37 Z" fill="url(#fur)"/>
</g>
<path d="M17 15.2 L35 14.8 L35 20.2 L17 20.6 Z" fill="url(#tail)"/>
<ellipse cx="18.25" cy="17.8" rx="5" ry="2.6" fill="#c09c44" transform="rotate(18 18.25 17.8)"/>
<rect x="19.4" y="26.8" width="12.3" height="7.4" fill="#dde0e4"/>
<rect x="21.4" y="28.7" width="8.8" height="4.3" rx="2.1" fill="#b09048"/>
</svg>
<svg x="215.45" y="400.10" width="35" height="35" viewBox="0 0 35 35" overflow="hidden">
<rect width="35" height="35" fill="url(#bg)"/>
<g filter="url(#soft)"><path d="M-2 -2 L8 -2 C12 4 16 10 21 15 L21 22 C16 26 12 31 8 37 L-2 37 Z" fill="url(#fur)"/>
</g>
<path d="M17 15.2 L35 14.8 L35 20.2 L17 20.6 Z" fill="url(#tail)"/>
<ellipse cx="18.25" cy="17.8" rx="5" ry="2.8" fill="#c09c44" transform="rotate(18 18.25 17.8)"/>
<rect x="19.4" y="26.8" width="12.3" height="7.4" fill="#dde0e4"/>
<rect x="21.4" y="28.7" width="8.8" height="4.3" rx="2.1" fill="#b09048"/>
</svg>
<svg x="33.20" y="436.80" width="35" height="35" viewBox="0 0 35 35" overflow="hidden">
<rect width="35" height="35" fill="url(#bg)"/>
<g filter="url(#soft)"><path d="M-2 -2 L8 -2 C12 4 16 10 21 15 L21 22 C16 26 12 31 8 37 L-2 37 Z" fill="url(#fur)"/>
</g>
<path d="M17 15.2 L35 14.8 L35 20.2 L17 20.6 Z" fill="url(#tail)"/>
<ellipse cx="18.25" cy="17.8" rx="5" ry="2.8" fill="#7e6a3a" transform="rotate(18 18.25 17.8)"/>
<rect x="19.4" y="26.8" width="12.3" height="7.4" fill="#dde0e4"/>
<rect x="21.4" y="28.7" width="8.8" height="4.3" rx="2.1" fill="#6a2a12"/>
</svg>
<svg x="69.65" y="436.80" width="35" height="35" viewBox="0 0 35 35" overflow="hidden">
<rect width="35" height="35" fill="url(#bg)"/>
<g filter="url(#soft)"><path d="M-2 -2 L8 -2 C12 4 16 10 21 15 L21 22 C16 26 12 31 8 37 L-2 37 Z" fill="url(#fur)"/>
</g>
<path d="M17 15.2 L35 14.8 L35 20.2 L17 20.6 Z" fill="url(#tail)"/>
<ellipse cx="18.80" cy="17.8" rx="6" ry="4.5" fill="#d9ab2e" transform="rotate(0 18.80 17.8)"/>
<rect x="19.4" y="26.8" width="12.3" height="7.4" fill="#dde0e4"/>
<path d="M21.2 32.4 C21.9 30.2 23.4 29.6 25.4 30 C27.4 29.4 29.4 29.8 30.2 32.4 Z" fill="#b09048"/>
</svg>
<svg x="106.10" y="436.80" width="35" height="35" viewBox="0 0 35 35" overflow="hidden">
<rect width="35" height="35" fill="url(#bg)"/>
<g filter="url(#soft)"><path d="M-2 -2 L8 -2 C12 4 16 10 21 15 L21 22 C16 26 12 31 8 37 L-2 37 Z" fill="url(#fur)"/>
</g>
<path d="M17 15.2 L35 14.8 L35 20.2 L17 20.6 Z" fill="url(#tail)"/>
<ellipse cx="18.52" cy="17.8" rx="5.5" ry="4.8" fill="#d9ab2e" transform="rotate(0 18.52 17.8)"/>
<rect x="19.4" y="26.8" width="12.3" height="7.4" fill="#dde0e4"/>
<path d="M21.2 32.4 C21.9 30.2 23.4 29.6 25.4 30 C27.4 29.4 29.4 29.8 30.2 32.4 Z" fill="#b09048"/>
</svg>
<svg x="142.55" y="436.80" width="35" height="35" viewBox="0 0 35 35" overflow="hidden">
<rect width="35" height="35" fill="url(#bg)"/>
<g filter="url(#soft)"><path d="M-2 -2 L8 -2 C12 4 16 10 21 15 L21 22 C16 26 12 31 8 37 L-2 37 Z" fill="url(#fur)"/>
</g>
<path d="M17 15.2 L35 14.8 L35 20.2 L17 20.6 Z" fill="url(#tail)"/>
<ellipse cx="18.25" cy="17.8" rx="5" ry="2.6" fill="#c09c44" transform="rotate(18 18.25 17.8)"/>
<rect x="19.4" y="26.8" width="12.3" height="7.4" fill="#dde0e4"/>
<path d="M21.2 32.4 C21.9 30.2 23.4 29.6 25.4 30 C27.4 29.4 29.4 29.8 30.2 32.4 Z" fill="#b09048"/>
</svg>
<svg x="179.00" y="436.80" width="35" height="35" viewBox="0 0 35 35" overflow="hidden">
<rect width="35" height="35" fill="url(#bg)"/>
<g filter="url(#soft)"><path d="M-2 -2 L8 -2 C12 4 16 10 21 15 L21 22 C16 26 12 31 8 37 L-2 37 Z" fill="url(#fur)"/>
</g>
<path d="M17 15.2 L35 14.8 L35 20.2 L17 20.6 Z" fill="url(#tail)"/>
<ellipse cx="18.52" cy="17.8" rx="5.5" ry="2.8" fill="#c09c44" transform="rotate(18 18.52 17.8)"/>
<rect x="19.4" y="26.8" width="12.3" height="7.4" fill="#dde0e4"/>
<path d="M21.2 32.4 C21.9 30.2 23.4 29.6 25.4 30 C27.4 29.4 29.4 29.8 30.2 32.4 Z" fill="#b09048"/>
</svg>
<svg x="215.45" y="436.80" width="35" height="35" viewBox="0 0 35 35" overflow="hidden">
<rect width="35" height="35" fill="url(#bg)"/>
<g filter="url(#soft)"><path d="M-2 -2 L8 -2 C12 4 16 10 21 15 L21 22 C16 26 12 31 8 37 L-2 37 Z" fill="url(#fur)"/>
</g>
<path d="M17 15.2 L35 14.8 L35 20.2 L17 20.6 Z" fill="url(#tail)"/>
<ellipse cx="17.43" cy="17.8" rx="3.5" ry="2.4" fill="#c09c44" transform="rotate(0 17.43 17.8)"/>
<rect x="19.4" y="26.8" width="12.3" height="7.4" fill="#dde0e4"/>
<path d="M21.2 32.4 C21.9 30.2 23.4 29.6 25.4 30 C27.4 29.4 29.4 29.8 30.2 32.4 Z" fill="#b09048"/>
</svg>
<svg x="33.20" y="473.50" width="35" height="35" viewBox="0 0 35 35" overflow="hidden">
<rect width="35" height="35" fill="url(#bg)"/>
<g filter="url(#soft)"><path d="M-2 -2 L8 -2 C12 4 16 10 21 15 L21 22 C16 26 12 31 8 37 L-2 37 Z" fill="url(#fur)"/>
</g>
<path d="M17 15.2 L35 14.8 L35 20.2 L17 20.6 Z" fill="url(#tail)"/>
<ellipse cx="18.52" cy="17.8" rx="5.5" ry="2.8" fill="#7e6a3a" transform="rotate(18 18.52 17.8)"/>
<rect x="19.4" y="26.8" width="12.3" height="7.4" fill="#dde0e4"/>
<rect x="21.4" y="28.7" width="8.8" height="4.3" rx="2.1" fill="#6a2a12"/>
</svg>
<svg x="69.65" y="473.50" width="35" height="35" viewBox="0 0 35 35" overflow="hidden">
<rect width="35" height="35" fill="url(#bg)"/>
<g filter="url(#soft)"><path d="M-2 -2 L8 -2 C12 4 16 10 21 15 L21 22 C16 26 12 31 8 37 L-2 37 Z" fill="url(#fur)"/>
</g>
<path d="M17 15.2 L35 14.8 L35 20.2 L17 20.6 Z" fill="url(#tail)"/>
<ellipse cx="16.60" cy="17.8" rx="2" ry="2" fill="#d9ab2e" transform="rotate(0 16.60 17.8)"/>
<rect x="19.4" y="26.8" width="12.3" height="7.4" fill="#dde0e4"/>
<path d="M21.2 32.4 C21.9 30.2 23.4 29.6 25.4 30 C27.4 29.4 29.4 29.8 30.2 32.4 Z" fill="#b09048"/>
</svg>
<svg x="106.10" y="473.50" width="35" height="35" viewBox="0 0 35 35" overflow="hidden">
<rect width="35" height="35" fill="url(#bg)"/>
<g filter="url(#soft)"><path d="M-2 -2 L8 -2 C12 4 16 10 21 15 L21 22 C16 26 12 31 8 37 L-2 37 Z" fill="url(#fur)"/>
</g>
<path d="M17 15.2 L35 14.8 L35 20.2 L17 20.6 Z" fill="url(#tail)"/>
<ellipse cx="16.60" cy="17.8" rx="2" ry="2" fill="#d9ab2e" transform="rotate(0 16.60 17.8)"/>
<rect x="19.4" y="26.8" width="12.3" height="7.4" fill="#dde0e4"/>
<path d="M21.2 32.4 C21.9 30.2 23.4 29.6 25.4 30 C27.4 29.4 29.4 29.8 30.2 32.4 Z" fill="#b09048"/>
</svg>
<svg x="142.55" y="473.50" width="35" height="35" viewBox="0 0 35 35" overflow="hidden">
<rect width="35" height="35" fill="url(#bg)"/>
<g filter="url(#soft)"><path d="M-2 -2 L8 -2 C12 4 16 10 21 15 L21 22 C16 26 12 31 8 37 L-2 37 Z" fill="url(#fur)"/>
</g>
<path d="M17 15.2 L35 14.8 L35 20.2 L17 20.6 Z" fill="url(#tail)"/>
<ellipse cx="18.80" cy="17.8" rx="6" ry="4" fill="#d9ab2e" transform="rotate(0 18.80 17.8)"/>
<rect x="19.4" y="26.8" width="12.3" height="7.4" fill="#dde0e4"/>
<path d="M21.2 32.4 C21.9 30.2 23.4 29.6 25.4 30 C27.4 29.4 29.4 29.8 30.2 32.4 Z" fill="#b09048"/>
</svg>
<svg x="179.00" y="473.50" width="35" height="35" viewBox="0 0 35 35" overflow="hidden">
<rect width="35" height="35" fill="url(#bg)"/>
<g filter="url(#soft)"><path d="M-2 -2 L8 -2 C12 4 16 10 21 15 L21 22 C16 26 12 31 8 37 L-2 37 Z" fill="url(#fur)"/>
</g>
<path d="M17 15.2 L35 14.8 L35 20.2 L17 20.6 Z" fill="url(#tail)"/>
<ellipse cx="18.52" cy="17.8" rx="5.5" ry="3" fill="#c09c44" transform="rotate(18 18.52 17.8)"/>
<rect x="19.4" y="26.8" width="12.3" height="7.4" fill="#dde0e4"/>
<path d="M21.2 32.4 C21.9 30.2 23.4 29.6 25.4 30 C27.4 29.4 29.4 29.8 30.2 32.4 Z" fill="#b09048"/>
</svg>
<svg x="215.45" y="473.50" width="35" height="35" viewBox="0 0 35 35" overflow="hidden">
<rect width="35" height="35" fill="url(#bg)"/>
<g filter="url(#soft)"><path d="M-2 -2 L8 -2 C12 4 16 10 21 15 L21 22 C16 26 12 31 8 37 L-2 37 Z" fill="url(#fur)"/>
</g>
<path d="M17 15.2 L35 14.8 L35 20.2 L17 20.6 Z" fill="url(#tail)"/>
<ellipse cx="18.25" cy="17.8" rx="5" ry="2.8" fill="#c09c44" transform="rotate(18 18.25 17.8)"/>
<rect x="19.4" y="26.8" width="12.3" height="7.4" fill="#dde0e4"/>
<path d="M21.2 32.4 C21.9 30.2 23.4 29.6 25.4 30 C27.4 29.4 29.4 29.8 30.2 32.4 Z" fill="#b09048"/>
</svg>
<svg x="33.20" y="510.10" width="35" height="35" viewBox="0 0 35 35" overflow="hidden">
<rect width="35" height="35" fill="url(#bg)"/>
<g filter="url(#soft)"><path d="M-2 -2 L8 -2 C12 4 16 10 21 15 L21 22 C16 26 12 31 8 37 L-2 37 Z" fill="url(#fur)"/>
</g>
<path d="M17 15.2 L35 14.8 L35 20.2 L17 20.6 Z" fill="url(#tail)"/>
<ellipse cx="18.52" cy="17.8" rx="5.5" ry="2.8" fill="#7e6a3a" transform="rotate(18 18.52 17.8)"/>
<rect x="19.4" y="26.8" width="12.3" height="7.4" fill="#dde0e4"/>
<rect x="21.4" y="28.7" width="8.8" height="4.3" rx="2.1" fill="#6a2a12"/>
</svg>
<svg x="69.65" y="510.10" width="35" height="35" viewBox="0 0 35 35" overflow="hidden">
<rect width="35" height="35" fill="url(#bg)"/>
<g filter="url(#soft)"><path d="M-2 -2 L8 -2 C12 4 16 10 21 15 L21 22 C16 26 12 31 8 37 L-2 37 Z" fill="url(#fur)"/>
</g>
<path d="M17 15.2 L35 14.8 L35 20.2 L17 20.6 Z" fill="url(#tail)"/>
<ellipse cx="16.60" cy="17.8" rx="2" ry="1.8" fill="#d9ab2e" transform="rotate(0 16.60 17.8)"/>
<rect x="19.4" y="26.8" width="12.3" height="7.4" fill="#dde0e4"/>
<path d="M21.2 32.4 C21.9 30.2 23.4 29.6 25.4 30 C27.4 29.4 29.4 29.8 30.2 32.4 Z" fill="#b09048"/>
</svg>
<svg x="106.10" y="510.10" width="35" height="35" viewBox="0 0 35 35" overflow="hidden">
<rect width="35" height="35" fill="url(#bg)"/>
<g filter="url(#soft)"><path d="M-2 -2 L8 -2 C12 4 16 10 21 15 L21 22 C16 26 12 31 8 37 L-2 37 Z" fill="url(#fur)"/>
</g>
<path d="M17 15.2 L35 14.8 L35 20.2 L17 20.6 Z" fill="url(#tail)"/>
<ellipse cx="16.71" cy="17.8" rx="2.2" ry="2" fill="#d9ab2e" transform="rotate(0 16.71 17.8)"/>
<rect x="19.4" y="26.8" width="12.3" height="7.4" fill="#dde0e4"/>
<path d="M21.2 32.4 C21.9 30.2 23.4 29.6 25.4 30 C27.4 29.4 29.4 29.8 30.2 32.4 Z" fill="#b09048"/>
</svg>
<svg x="142.55" y="510.10" width="35" height="35" viewBox="0 0 35 35" overflow="hidden">
<rect width="35" height="35" fill="url(#bg)"/>
<g filter="url(#soft)"><path d="M-2 -2 L8 -2 C12 4 16 10 21 15 L21 22 C16 26 12 31 8 37 L-2 37 Z" fill="url(#fur)"/>
</g>
<path d="M17 15.2 L35 14.8 L35 20.2 L17 20.6 Z" fill="url(#tail)"/>
<ellipse cx="17.98" cy="17.8" rx="4.5" ry="3.5" fill="#d9ab2e" transform="rotate(0 17.98 17.8)"/>
<rect x="19.4" y="26.8" width="12.3" height="7.4" fill="#dde0e4"/>
<path d="M21.2 32.4 C21.9 30.2 23.4 29.6 25.4 30 C27.4 29.4 29.4 29.8 30.2 32.4 Z" fill="#b09048"/>
</svg>
<svg x="179.00" y="510.10" width="35" height="35" viewBox="0 0 35 35" overflow="hidden">
<rect width="35" height="35" fill="url(#bg)"/>
<g filter="url(#soft)"><path d="M-2 -2 L8 -2 C12 4 16 10 21 15 L21 22 C16 26 12 31 8 37 L-2 37 Z" fill="url(#fur)"/>
</g>
<path d="M17 15.2 L35 14.8 L35 20.2 L17 20.6 Z" fill="url(#tail)"/>
<ellipse cx="18.52" cy="17.8" rx="5.5" ry="3" fill="#c09c44" transform="rotate(18 18.52 17.8)"/>
<rect x="19.4" y="26.8" width="12.3" height="7.4" fill="#dde0e4"/>
<path d="M21.2 32.4 C21.9 30.2 23.4 29.6 25.4 30 C27.4 29.4 29.4 29.8 30.2 32.4 Z" fill="#b09048"/>
</svg>
<svg x="215.45" y="510.10" width="35" height="35" viewBox="0 0 35 35" overflow="hidden">
<rect width="35" height="35" fill="url(#bg)"/>
<g filter="url(#soft)"><path d="M-2 -2 L8 -2 C12 4 16 10 21 15 L21 22 C16 26 12 31 8 37 L-2 37 Z" fill="url(#fur)"/>
</g>
<path d="M17 15.2 L35 14.8 L35 20.2 L17 20.6 Z" fill="url(#tail)"/>
<ellipse cx="17.98" cy="17.8" rx="4.5" ry="3" fill="#c09c44" transform="rotate(18 17.98 17.8)"/>
<rect x="19.4" y="26.8" width="12.3" height="7.4" fill="#dde0e4"/>
<path d="M21.2 32.4 C21.9 30.2 23.4 29.6 25.4 30 C27.4 29.4 29.4 29.8 30.2 32.4 Z" fill="#b09048"/>
</svg>
<svg x="33.20" y="547.10" width="35" height="35" viewBox="0 0 35 35" overflow="hidden">
<rect width="35" height="35" fill="url(#bg)"/>
<g filter="url(#soft)"><path d="M-2 -2 L8 -2 C12 4 16 10 21 15 L21 22 C16 26 12 31 8 37 L-2 37 Z" fill="url(#fur)"/>
</g>
<path d="M17 15.2 L35 14.8 L35 20.2 L17 20.6 Z" fill="url(#tail)"/>
<ellipse cx="18.52" cy="17.8" rx="5.5" ry="3" fill="#7e6a3a" transform="rotate(18 18.52 17.8)"/>
<rect x="19.4" y="26.8" width="12.3" height="7.4" fill="#dde0e4"/>
<rect x="21.4" y="28.7" width="8.8" height="4.3" rx="2.1" fill="#6a2a12"/>
</svg>
<svg x="69.65" y="547.10" width="35" height="35" viewBox="0 0 35 35" overflow="hidden">
<rect width="35" height="35" fill="url(#bg)"/>
<g filter="url(#soft)"><path d="M-2 -2 L8 -2 C12 4 16 10 21 15 L21 22 C16 26 12 31 8 37 L-2 37 Z" fill="url(#fur)"/>
</g>
<path d="M17 15.2 L35 14.8 L35 20.2 L17 20.6 Z" fill="url(#tail)"/>
<ellipse cx="16.60" cy="17.8" rx="2" ry="1.8" fill="#d9ab2e" transform="rotate(0 16.60 17.8)"/>
<rect x="19.4" y="26.8" width="12.3" height="7.4" fill="#dde0e4"/>
<path d="M21.2 32.4 C21.9 30.2 23.4 29.6 25.4 30 C27.4 29.4 29.4 29.8 30.2 32.4 Z" fill="#b09048"/>
</svg>
<svg x="106.10" y="547.10" width="35" height="35" viewBox="0 0 35 35" overflow="hidden">
<rect width="35" height="35" fill="url(#bg)"/>
<g filter="url(#soft)"><path d="M-2 -2 L8 -2 C12 4 16 10 21 15 L21 22 C16 26 12 31 8 37 L-2 37 Z" fill="url(#fur)"/>
</g>
<path d="M17 15.2 L35 14.8 L35 20.2 L17 20.6 Z" fill="url(#tail)"/>
<ellipse cx="16.71" cy="17.8" rx="2.2" ry="2" fill="#d9ab2e" transform="rotate(0 16.71 17.8)"/>
<rect x="19.4" y="26.8" width="12.3" height="7.4" fill="#dde0e4"/>
<path d="M21.2 32.4 C21.9 30.2 23.4 29.6 25.4 30 C27.4 29.4 29.4 29.8 30.2 32.4 Z" fill="#b09048"/>
</svg>
<svg x="142.55" y="547.10" width="35" height="35" viewBox="0 0 35 35" overflow="hidden">
<rect width="35" height="35" fill="url(#bg)"/>
<g filter="url(#soft)"><path d="M-2 -2 L8 -2 C12 4 16 10 21 15 L21 22 C16 26 12 31 8 37 L-2 37 Z" fill="url(#fur)"/>
</g>
<path d="M17 15.2 L35 14.8 L35 20.2 L17 20.6 Z" fill="url(#tail)"/>
<ellipse cx="16.60" cy="17.8" rx="2" ry="1.8" fill="#d9ab2e" transform="rotate(0 16.60 17.8)"/>
<rect x="19.4" y="26.8" width="12.3" height="7.4" fill="#dde0e4"/>
<path d="M21.2 32.4 C21.9 30.2 23.4 29.6 25.4 30 C27.4 29.4 29.4 29.8 30.2 32.4 Z" fill="#b09048"/>
</svg>
<svg x="179.00" y="547.10" width="35" height="35" viewBox="0 0 35 35" overflow="hidden">
<rect width="35" height="35" fill="url(#bg)"/>
<g filter="url(#soft)"><path d="M-2 -2 L8 -2 C12 4 16 10 21 15 L21 22 C16 26 12 31 8 37 L-2 37 Z" fill="url(#fur)"/>
</g>
<path d="M17 15.2 L35 14.8 L35 20.2 L17 20.6 Z" fill="url(#tail)"/>
<ellipse cx="18.80" cy="17.8" rx="6" ry="3" fill="#c09c44" transform="rotate(18 18.80 17.8)"/>
<rect x="19.4" y="26.8" width="12.3" height="7.4" fill="#dde0e4"/>
<path d="M21.2 32.4 C21.9 30.2 23.4 29.6 25.4 30 C27.4 29.4 29.4 29.8 30.2 32.4 Z" fill="#b09048"/>
</svg>
<svg x="215.45" y="547.10" width="35" height="35" viewBox="0 0 35 35" overflow="hidden">
<rect width="35" height="35" fill="url(#bg)"/>
<g filter="url(#soft)"><path d="M-2 -2 L8 -2 C12 4 16 10 21 15 L21 22 C16 26 12 31 8 37 L-2 37 Z" fill="url(#fur)"/>
</g>
<path d="M17 15.2 L35 14.8 L35 20.2 L17 20.6 Z" fill="url(#tail)"/>
<ellipse cx="17.43" cy="17.8" rx="3.5" ry="2.5" fill="#c09c44" transform="rotate(0 17.43 17.8)"/>
<rect x="19.4" y="26.8" width="12.3" height="7.4" fill="#dde0e4"/>
<path d="M21.2 32.4 C21.9 30.2 23.4 29.6 25.4 30 C27.4 29.4 29.4 29.8 30.2 32.4 Z" fill="#b09048"/>
</svg>
<text x="281.80" y="379.90" font-size="17" font-weight="bold" text-anchor="start" fill="#000" >e</text>
<text x="299.30" y="396.70" font-size="9.6" font-weight="normal" text-anchor="start" fill="#231f20" >Stool score</text>
<rect x="300.4" y="402.8" width="46.3" height="130.7" fill="url(#peach)"/>
<rect x="310.9" y="414.00" width="23" height="9.8" rx="4.9" fill="#5a2a16"/>
<ellipse cx="322.5" cy="442.68" rx="11.5" ry="5.2" fill="#9a8040"/>
<g fill="#9a8248">
<circle cx="313.5" cy="467.66" r="3.3"/>
<circle cx="317.5" cy="465.16" r="3"/>
<circle cx="321.5" cy="464.86" r="3"/>
<circle cx="325.5" cy="465.06" r="3"/>
<circle cx="329.5" cy="466.16" r="3"/>
<circle cx="332.0" cy="468.16" r="2.6"/>
<circle cx="316.5" cy="469.46" r="3"/>
<circle cx="321.5" cy="469.86" r="3"/>
<circle cx="326.5" cy="469.66" r="3"/>
<circle cx="322.5" cy="467.66" r="3.5"/>
</g>
<g fill="#9a8248">
<ellipse cx="322.3" cy="493.64" rx="14" ry="3.2"/>
<circle cx="314.5" cy="492.24" r="2.6"/>
<circle cx="319.5" cy="491.44" r="2.7"/>
<circle cx="325.5" cy="491.54" r="2.7"/>
<circle cx="330.5" cy="492.74" r="2.6"/>
<path d="M310.6 521.52 C310 517.92 313 513.72 321 513.72 C329 513.52 335 515.42 335.6 520.72 C330 522.32 318 522.52 310.6 521.52 Z"/>
<circle cx="308.0" cy="520.42" r="0.6"/>
<circle cx="309.3" cy="518.12" r="0.5"/>
<circle cx="335.9" cy="519.72" r="0.6"/>
<circle cx="312.5" cy="522.72" r="0.5"/>
<circle cx="336.3" cy="521.52" r="0.5"/>
<circle cx="310.2" cy="521.42" r="0.5"/>
</g>
<circle cx="342.7" cy="516.92" r="2" fill="#231f20"/>
<line x1="343.00" y1="516.92" x2="355.30" y2="516.92" stroke="#555" stroke-width="1" />
<circle cx="342.7" cy="492.44" r="2" fill="#231f20"/>
<line x1="343.00" y1="492.44" x2="355.30" y2="492.44" stroke="#555" stroke-width="1" />
<circle cx="342.7" cy="467.96" r="2" fill="#231f20"/>
<line x1="343.00" y1="467.96" x2="355.30" y2="467.96" stroke="#555" stroke-width="1" />
<circle cx="342.7" cy="443.48" r="2" fill="#231f20"/>
<line x1="343.00" y1="443.48" x2="355.30" y2="443.48" stroke="#555" stroke-width="1" />
<circle cx="342.7" cy="419.00" r="2" fill="#231f20"/>
<line x1="343.00" y1="419.00" x2="355.30" y2="419.00" stroke="#555" stroke-width="1" />
<path d="M372.6 406.5 V541.4 H575.2" fill="none" stroke="#231f20" stroke-width="1.8"/>
<line x1="367.30" y1="541.40" x2="372.60" y2="541.40" stroke="#231f20" stroke-width="1.4" />
<text transform="translate(365.50 545.60) scale(0.8 1)" font-size="11.2" font-weight="bold" text-anchor="end" fill="#231f20">0</text>
<line x1="367.30" y1="516.92" x2="372.60" y2="516.92" stroke="#231f20" stroke-width="1.4" />
<text transform="translate(365.50 521.12) scale(0.8 1)" font-size="11.2" font-weight="bold" text-anchor="end" fill="#231f20">1</text>
<line x1="367.30" y1="492.44" x2="372.60" y2="492.44" stroke="#231f20" stroke-width="1.4" />
<text transform="translate(365.50 496.64) scale(0.8 1)" font-size="11.2" font-weight="bold" text-anchor="end" fill="#231f20">2</text>
<line x1="367.30" y1="467.96" x2="372.60" y2="467.96" stroke="#231f20" stroke-width="1.4" />
<text transform="translate(365.50 472.16) scale(0.8 1)" font-size="11.2" font-weight="bold" text-anchor="end" fill="#231f20">3</text>
<line x1="367.30" y1="443.48" x2="372.60" y2="443.48" stroke="#231f20" stroke-width="1.4" />
<text transform="translate(365.50 447.68) scale(0.8 1)" font-size="11.2" font-weight="bold" text-anchor="end" fill="#231f20">4</text>
<line x1="367.30" y1="419.00" x2="372.60" y2="419.00" stroke="#231f20" stroke-width="1.4" />
<text transform="translate(365.50 423.20) scale(0.8 1)" font-size="11.2" font-weight="bold" text-anchor="end" fill="#231f20">5</text>
<line x1="384.00" y1="541.40" x2="384.00" y2="545.60" stroke="#231f20" stroke-width="1.4" />
<text transform="translate(384.00 558.20) scale(0.84 1)" font-size="10.8" font-weight="bold" text-anchor="middle" fill="#231f20">1</text>
<line x1="428.86" y1="541.40" x2="428.86" y2="545.60" stroke="#231f20" stroke-width="1.4" />
<text transform="translate(428.86 558.20) scale(0.84 1)" font-size="10.8" font-weight="bold" text-anchor="middle" fill="#231f20">3</text>
<line x1="473.72" y1="541.40" x2="473.72" y2="545.60" stroke="#231f20" stroke-width="1.4" />
<text transform="translate(473.72 558.20) scale(0.84 1)" font-size="10.8" font-weight="bold" text-anchor="middle" fill="#231f20">5</text>
<line x1="518.58" y1="541.40" x2="518.58" y2="545.60" stroke="#231f20" stroke-width="1.4" />
<text transform="translate(518.58 558.20) scale(0.84 1)" font-size="10.8" font-weight="bold" text-anchor="middle" fill="#231f20">7</text>
<line x1="563.44" y1="541.40" x2="563.44" y2="545.60" stroke="#231f20" stroke-width="1.4" />
<text transform="translate(563.44 558.20) scale(0.84 1)" font-size="10.8" font-weight="bold" text-anchor="middle" fill="#231f20">9</text>
<text x="474.00" y="576.00" font-size="11.05" font-weight="bold" text-anchor="middle" fill="#231f20" >Time (day)</text>
<path d="M384.00 438.58V455.72M381.20 438.58h5.6M381.20 455.72h5.6" stroke="#c070e4" stroke-width="0.85" fill="none" opacity="0.9"/>
<path d="M428.86 439.32V459.88M426.06 439.32h5.6M426.06 459.88h5.6" stroke="#c070e4" stroke-width="0.85" fill="none" opacity="0.9"/>
<path d="M473.72 450.09V465.76M470.92 450.09h5.6M470.92 465.76h5.6" stroke="#c070e4" stroke-width="0.85" fill="none" opacity="0.9"/>
<path d="M518.58 452.29V466.98M515.78 452.29h5.6M515.78 466.98h5.6" stroke="#c070e4" stroke-width="0.85" fill="none" opacity="0.9"/>
<path d="M563.44 454.50V473.10M560.64 454.50h5.6M560.64 473.10h5.6" stroke="#c070e4" stroke-width="0.85" fill="none" opacity="0.9"/>
<path d="M384.00 439.81V454.50M381.20 439.81h5.6M381.20 454.50h5.6" stroke="#3cc03c" stroke-width="0.85" fill="none" opacity="0.9"/>
<path d="M428.86 443.24V462.82M426.06 443.24h5.6M426.06 462.82h5.6" stroke="#3cc03c" stroke-width="0.85" fill="none" opacity="0.9"/>
<path d="M473.72 439.32V456.45M470.92 439.32h5.6M470.92 456.45h5.6" stroke="#3cc03c" stroke-width="0.85" fill="none" opacity="0.9"/>
<path d="M518.58 437.85V454.01M515.78 437.85h5.6M515.78 454.01h5.6" stroke="#3cc03c" stroke-width="0.85" fill="none" opacity="0.9"/>
<path d="M563.44 433.93V451.07M560.64 433.93h5.6M560.64 451.07h5.6" stroke="#3cc03c" stroke-width="0.85" fill="none" opacity="0.9"/>
<path d="M384.00 439.81V454.50M381.20 439.81h5.6M381.20 454.50h5.6" stroke="#ff9a40" stroke-width="0.85" fill="none" opacity="0.9"/>
<path d="M428.86 460.13V482.16M426.06 460.13h5.6M426.06 482.16h5.6" stroke="#ff9a40" stroke-width="0.85" fill="none" opacity="0.9"/>
<path d="M473.72 475.79V499.29M470.92 475.79h5.6M470.92 499.29h5.6" stroke="#ff9a40" stroke-width="0.85" fill="none" opacity="0.9"/>
<path d="M518.58 483.38V505.41M515.78 483.38h5.6M515.78 505.41h5.6" stroke="#ff9a40" stroke-width="0.85" fill="none" opacity="0.9"/>
<path d="M563.44 492.44V512.02M560.64 492.44h5.6M560.64 512.02h5.6" stroke="#ff9a40" stroke-width="0.85" fill="none" opacity="0.9"/>
<path d="M384.00 438.58V455.72M381.20 438.58h5.6M381.20 455.72h5.6" stroke="#3aa2b5" stroke-width="0.85" fill="none" opacity="0.9"/>
<path d="M428.86 472.37V496.85M426.06 472.37h5.6M426.06 496.85h5.6" stroke="#3aa2b5" stroke-width="0.85" fill="none" opacity="0.9"/>
<path d="M473.72 491.46V513.49M470.92 491.46h5.6M470.92 513.49h5.6" stroke="#3aa2b5" stroke-width="0.85" fill="none" opacity="0.9"/>
<path d="M518.58 499.29V513.98M515.78 499.29h5.6M515.78 513.98h5.6" stroke="#3aa2b5" stroke-width="0.85" fill="none" opacity="0.9"/>
<path d="M563.44 498.80V513.49M560.64 498.80h5.6M560.64 513.49h5.6" stroke="#3aa2b5" stroke-width="0.85" fill="none" opacity="0.9"/>
<path d="M384.00 436.14V455.72M381.20 436.14h5.6M381.20 455.72h5.6" stroke="#ff8fcb" stroke-width="0.85" fill="none" opacity="0.9"/>
<path d="M428.86 471.14V495.62M426.06 471.14h5.6M426.06 495.62h5.6" stroke="#ff8fcb" stroke-width="0.85" fill="none" opacity="0.9"/>
<path d="M473.72 493.17V515.21M470.92 493.17h5.6M470.92 515.21h5.6" stroke="#ff8fcb" stroke-width="0.85" fill="none" opacity="0.9"/>
<path d="M518.58 497.34V514.47M515.78 497.34h5.6M515.78 514.47h5.6" stroke="#ff8fcb" stroke-width="0.85" fill="none" opacity="0.9"/>
<path d="M563.44 498.80V513.49M560.64 498.80h5.6M560.64 513.49h5.6" stroke="#ff8fcb" stroke-width="0.85" fill="none" opacity="0.9"/>
<polyline points="384.00,419.00 428.86,419.00 473.72,419.00 518.58,419.00 563.44,419.00" fill="none" stroke="#4aa0f7" stroke-width="1"/>
<circle cx="384.00" cy="419.00" r="2.84" fill="#0a7ff5"/>
<circle cx="428.86" cy="419.00" r="2.84" fill="#0a7ff5"/>
<circle cx="473.72" cy="419.00" r="2.84" fill="#0a7ff5"/>
<circle cx="518.58" cy="419.00" r="2.84" fill="#0a7ff5"/>
<circle cx="563.44" cy="419.00" r="2.84" fill="#0a7ff5"/>
<polyline points="384.00,447.15 428.86,449.60 473.72,457.92 518.58,459.64 563.44,463.80" fill="none" stroke="#c070e4" stroke-width="1"/>
<circle cx="384.00" cy="447.15" r="2.62" fill="#b455e0"/>
<circle cx="428.86" cy="449.60" r="2.62" fill="#b455e0"/>
<circle cx="473.72" cy="457.92" r="2.62" fill="#b455e0"/>
<circle cx="518.58" cy="459.64" r="2.62" fill="#b455e0"/>
<circle cx="563.44" cy="463.80" r="2.62" fill="#b455e0"/>
<polyline points="384.00,447.15 428.86,453.03 473.72,447.89 518.58,445.93 563.44,442.50" fill="none" stroke="#3cc03c" stroke-width="1"/>
<path d="M381.06 449.50L386.94 449.50L384.00 444.36Z" fill="#0db80d"/>
<path d="M425.92 455.38L431.80 455.38L428.86 450.23Z" fill="#0db80d"/>
<path d="M470.78 450.24L476.66 450.24L473.72 445.09Z" fill="#0db80d"/>
<path d="M515.64 448.28L521.52 448.28L518.58 443.13Z" fill="#0db80d"/>
<path d="M560.50 444.85L566.38 444.85L563.44 439.71Z" fill="#0db80d"/>
<polyline points="384.00,447.15 428.86,471.14 473.72,487.54 518.58,494.40 563.44,502.23" fill="none" stroke="#ff9a40" stroke-width="1"/>
<path d="M381.06 444.80L386.94 444.80L384.00 449.94Z" fill="#ff7c0c"/>
<path d="M425.92 468.79L431.80 468.79L428.86 473.94Z" fill="#ff7c0c"/>
<path d="M470.78 485.19L476.66 485.19L473.72 490.34Z" fill="#ff7c0c"/>
<path d="M515.64 492.05L521.52 492.05L518.58 497.19Z" fill="#ff7c0c"/>
<path d="M560.50 499.88L566.38 499.88L563.44 505.02Z" fill="#ff7c0c"/>
<polyline points="384.00,447.15 428.86,484.61 473.72,502.48 518.58,506.64 563.44,506.15" fill="none" stroke="#3aa2b5" stroke-width="1"/>
<path d="M384.00 444.32L386.83 447.15L384.00 449.99L381.17 447.15Z" fill="#2597ab"/>
<path d="M428.86 481.77L431.69 484.61L428.86 487.44L426.03 484.61Z" fill="#2597ab"/>
<path d="M473.72 499.64L476.56 502.48L473.72 505.31L470.89 502.48Z" fill="#2597ab"/>
<path d="M518.58 503.80L521.41 506.64L518.58 509.47L515.74 506.64Z" fill="#2597ab"/>
<path d="M563.44 503.31L566.28 506.15L563.44 508.98L560.61 506.15Z" fill="#2597ab"/>
<polyline points="384.00,445.93 428.86,483.38 473.72,504.19 518.58,505.90 563.44,506.15" fill="none" stroke="#ff8fcb" stroke-width="1"/>
<rect x="381.27" y="443.20" width="5.46" height="5.46" fill="#ff7fc6"/>
<rect x="426.13" y="480.65" width="5.46" height="5.46" fill="#ff7fc6"/>
<rect x="470.99" y="501.46" width="5.46" height="5.46" fill="#ff7fc6"/>
<rect x="515.85" y="503.17" width="5.46" height="5.46" fill="#ff7fc6"/>
<rect x="560.71" y="503.42" width="5.46" height="5.46" fill="#ff7fc6"/>
<line x1="594.50" y1="420.80" x2="608.80" y2="420.80" stroke="#4aa0f7" stroke-width="1" />
<circle cx="601.60" cy="420.80" r="2.84" fill="#0a7ff5"/>
<text x="617.50" y="424.90" font-size="11.1" font-weight="normal" text-anchor="start" fill="#231f20" >Health</text>
<line x1="594.50" y1="440.50" x2="608.80" y2="440.50" stroke="#ff8fcb" stroke-width="1" />
<rect x="598.87" y="437.77" width="5.46" height="5.46" fill="#ff7fc6"/>
<text x="617.50" y="444.60" font-size="11.1" font-weight="normal" text-anchor="start" fill="#231f20" >PBS</text>
<line x1="594.50" y1="460.00" x2="608.80" y2="460.00" stroke="#3aa2b5" stroke-width="1" />
<path d="M601.60 457.17L604.44 460.00L601.60 462.83L598.76 460.00Z" fill="#2597ab"/>
<text x="617.50" y="464.10" font-size="11.1" font-weight="normal" text-anchor="start" fill="#231f20" >HMs</text>
<line x1="594.50" y1="479.70" x2="608.80" y2="479.70" stroke="#ff9a40" stroke-width="1" />
<path d="M598.66 477.35L604.54 477.35L601.60 482.49Z" fill="#ff7c0c"/>
<text x="617.50" y="483.80" font-size="11.1" font-weight="normal" text-anchor="start" fill="#231f20" >Phages</text>
<line x1="594.50" y1="499.40" x2="608.80" y2="499.40" stroke="#3cc03c" stroke-width="1" />
<path d="M598.66 501.75L604.54 501.75L601.60 496.61Z" fill="#0db80d"/>
<text x="617.50" y="503.50" font-size="11.1" font-weight="normal" text-anchor="start" fill="#231f20" >HMs-Phages</text>
<line x1="594.50" y1="518.30" x2="608.80" y2="518.30" stroke="#c070e4" stroke-width="1" />
<circle cx="601.60" cy="518.30" r="2.62" fill="#b455e0"/>
<text x="617.50" y="522.40" font-size="11.1" font-weight="normal" text-anchor="start" fill="#231f20" >CIP</text>
<text x="2.00" y="597.50" font-size="17.5" font-weight="bold" text-anchor="start" fill="#000" >f</text>
<text x="142.80" y="602.80" font-size="10.36" font-weight="bold" text-anchor="middle" fill="#231f20" >Dynamic change of STm</text>
<path d="M49 610.3 V738.6 H240.8" fill="none" stroke="#3e3c3c" stroke-width="1.8"/>
<line x1="44.00" y1="738.60" x2="49.00" y2="738.60" stroke="#231f20" stroke-width="1.4" />
<text transform="translate(37.20 742.10) scale(0.86 1)" font-size="10.1" font-weight="bold" text-anchor="end" fill="#231f20">10</text>
<text transform="translate(39.00 739.80) scale(0.72 1)" font-size="7.6" font-weight="bold" text-anchor="start" fill="#231f20">4</text>
<line x1="44.00" y1="714.60" x2="49.00" y2="714.60" stroke="#231f20" stroke-width="1.4" />
<text transform="translate(37.20 718.10) scale(0.86 1)" font-size="10.1" font-weight="bold" text-anchor="end" fill="#231f20">10</text>
<text transform="translate(39.00 715.80) scale(0.72 1)" font-size="7.6" font-weight="bold" text-anchor="start" fill="#231f20">5</text>
<line x1="44.00" y1="690.60" x2="49.00" y2="690.60" stroke="#231f20" stroke-width="1.4" />
<text transform="translate(37.20 694.10) scale(0.86 1)" font-size="10.1" font-weight="bold" text-anchor="end" fill="#231f20">10</text>
<text transform="translate(39.00 691.80) scale(0.72 1)" font-size="7.6" font-weight="bold" text-anchor="start" fill="#231f20">6</text>
<line x1="44.00" y1="666.60" x2="49.00" y2="666.60" stroke="#231f20" stroke-width="1.4" />
<text transform="translate(37.20 670.10) scale(0.86 1)" font-size="10.1" font-weight="bold" text-anchor="end" fill="#231f20">10</text>
<text transform="translate(39.00 667.80) scale(0.72 1)" font-size="7.6" font-weight="bold" text-anchor="start" fill="#231f20">7</text>
<line x1="44.00" y1="642.60" x2="49.00" y2="642.60" stroke="#231f20" stroke-width="1.4" />
<text transform="translate(37.20 646.10) scale(0.86 1)" font-size="10.1" font-weight="bold" text-anchor="end" fill="#231f20">10</text>
<text transform="translate(39.00 643.80) scale(0.72 1)" font-size="7.6" font-weight="bold" text-anchor="start" fill="#231f20">8</text>
<line x1="44.00" y1="618.60" x2="49.00" y2="618.60" stroke="#231f20" stroke-width="1.4" />
<text transform="translate(37.20 622.10) scale(0.86 1)" font-size="10.1" font-weight="bold" text-anchor="end" fill="#231f20">10</text>
<text transform="translate(39.00 619.80) scale(0.72 1)" font-size="7.6" font-weight="bold" text-anchor="start" fill="#231f20">9</text>
<line x1="68.80" y1="738.60" x2="68.80" y2="742.80" stroke="#231f20" stroke-width="1.4" />
<text transform="translate(68.80 754.80) scale(0.85 1)" font-size="10.6" font-weight="bold" text-anchor="middle" fill="#231f20">1</text>
<line x1="106.60" y1="738.60" x2="106.60" y2="742.80" stroke="#231f20" stroke-width="1.4" />
<text transform="translate(106.60 754.80) scale(0.85 1)" font-size="10.6" font-weight="bold" text-anchor="middle" fill="#231f20">3</text>
<line x1="144.40" y1="738.60" x2="144.40" y2="742.80" stroke="#231f20" stroke-width="1.4" />
<text transform="translate(144.40 754.80) scale(0.85 1)" font-size="10.6" font-weight="bold" text-anchor="middle" fill="#231f20">5</text>
<line x1="182.20" y1="738.60" x2="182.20" y2="742.80" stroke="#231f20" stroke-width="1.4" />
<text transform="translate(182.20 754.80) scale(0.85 1)" font-size="10.6" font-weight="bold" text-anchor="middle" fill="#231f20">7</text>
<line x1="220.00" y1="738.60" x2="220.00" y2="742.80" stroke="#231f20" stroke-width="1.4" />
<text transform="translate(220.00 754.80) scale(0.85 1)" font-size="10.6" font-weight="bold" text-anchor="middle" fill="#231f20">9</text>
<text x="145.80" y="774.00" font-size="9.85" font-weight="bold" text-anchor="middle" fill="#231f20" >Time (day)</text>
<text transform="translate(23.2 674.5) rotate(-90)" font-size="9.75" font-weight="bold" text-anchor="middle" fill="#231f20">STm counts (CFU/g)</text>
<g stroke="#e8408f" stroke-width="0.9" fill="none">
<path d="M55.30 638.52V642.60M55.30 654.36V659.16M54.00 638.52h2.6M54.00 659.16h2.6"/>
<rect x="53.15" y="642.60" width="4.30" height="11.76" fill="#fbc5de"/>
<path d="M53.15 648.12h4.30"/>
</g>
<g stroke="#177d98" stroke-width="0.9" fill="none">
<path d="M62.05 636.36V638.52M62.05 650.28V657.00M60.75 636.36h2.6M60.75 657.00h2.6"/>
<rect x="59.90" y="638.52" width="4.30" height="11.76" fill="#1f8fad"/>
<path d="M59.90 643.32h4.30"/>
</g>
<g stroke="#f2892e" stroke-width="0.9" fill="none">
<path d="M68.80 640.68V643.32M68.80 657.00V661.32M67.50 640.68h2.6M67.50 661.32h2.6"/>
<rect x="66.65" y="643.32" width="4.30" height="13.68" fill="#ffb877"/>
<path d="M66.65 649.80h4.30"/>
</g>
<g stroke="#0a960a" stroke-width="0.9" fill="none">
<path d="M75.55 635.88V639.48M75.55 653.40V658.44M74.25 635.88h2.6M74.25 658.44h2.6"/>
<rect x="73.40" y="639.48" width="4.30" height="13.92" fill="#0db30d"/>
<path d="M73.40 646.20h4.30"/>
</g>
<g stroke="#a23fc9" stroke-width="0.9" fill="none">
<path d="M82.30 638.04V641.16M82.30 653.40V657.72M81.00 638.04h2.6M81.00 657.72h2.6"/>
<rect x="80.15" y="641.16" width="4.30" height="12.24" fill="#dc95f2"/>
<path d="M80.15 647.40h4.30"/>
</g>
<g stroke="#e8408f" stroke-width="0.9" fill="none">
<path d="M93.10 619.56V621.24M93.10 635.16V639.48M91.80 619.56h2.6M91.80 639.48h2.6"/>
<rect x="90.95" y="621.24" width="4.30" height="13.92" fill="#fbc5de"/>
<path d="M90.95 627.72h4.30"/>
</g>
<g stroke="#177d98" stroke-width="0.9" fill="none">
<path d="M99.85 619.08V622.68M99.85 636.60V639.48M98.55 619.08h2.6M98.55 639.48h2.6"/>
<rect x="97.70" y="622.68" width="4.30" height="13.92" fill="#1f8fad"/>
<path d="M97.70 630.36h4.30"/>
</g>
<g stroke="#f2892e" stroke-width="0.9" fill="none">
<path d="M106.60 635.40V638.52M106.60 653.40V658.44M105.30 635.40h2.6M105.30 658.44h2.6"/>
<rect x="104.45" y="638.52" width="4.30" height="14.88" fill="#ffb877"/>
<path d="M104.45 645.72h4.30"/>
</g>
<g stroke="#0a960a" stroke-width="0.9" fill="none">
<path d="M113.35 686.76V691.32M113.35 705.72V709.32M112.05 686.76h2.6M112.05 709.32h2.6"/>
<rect x="111.20" y="691.32" width="4.30" height="14.40" fill="#0db30d"/>
<path d="M111.20 698.28h4.30"/>
</g>
<g stroke="#a23fc9" stroke-width="0.9" fill="none">
<path d="M120.10 697.56V700.20M120.10 710.28V714.36M118.80 697.56h2.6M118.80 714.36h2.6"/>
<rect x="117.95" y="700.20" width="4.30" height="10.08" fill="#dc95f2"/>
<path d="M117.95 704.76h4.30"/>
</g>
<g stroke="#e8408f" stroke-width="0.9" fill="none">
<path d="M130.90 616.92V619.56M130.90 634.20V640.20M129.60 616.92h2.6M129.60 640.20h2.6"/>
<rect x="128.75" y="619.56" width="4.30" height="14.64" fill="#fbc5de"/>
<path d="M128.75 627.72h4.30"/>
</g>
<g stroke="#177d98" stroke-width="0.9" fill="none">
<path d="M137.65 616.20V620.04M137.65 632.52V638.52M136.35 616.20h2.6M136.35 638.52h2.6"/>
<rect x="135.50" y="620.04" width="4.30" height="12.48" fill="#1f8fad"/>
<path d="M135.50 626.52h4.30"/>
</g>
<g stroke="#f2892e" stroke-width="0.9" fill="none">
<path d="M144.40 628.68V633.00M144.40 648.36V651.72M143.10 628.68h2.6M143.10 651.72h2.6"/>
<rect x="142.25" y="633.00" width="4.30" height="15.36" fill="#ffb877"/>
<path d="M142.25 640.20h4.30"/>
</g>
<g stroke="#0a960a" stroke-width="0.9" fill="none">
<path d="M151.15 677.40V681.72M151.15 699.72V703.32M149.85 677.40h2.6M149.85 703.32h2.6"/>
<rect x="149.00" y="681.72" width="4.30" height="18.00" fill="#0db30d"/>
<path d="M149.00 691.32h4.30"/>
</g>
<g stroke="#a23fc9" stroke-width="0.9" fill="none">
<path d="M157.90 700.20V704.28M157.90 718.44V719.64M156.60 700.20h2.6M156.60 719.64h2.6"/>
<rect x="155.75" y="704.28" width="4.30" height="14.16" fill="#dc95f2"/>
<path d="M155.75 712.44h4.30"/>
</g>
<g stroke="#e8408f" stroke-width="0.9" fill="none">
<path d="M168.70 615.72V619.56M168.70 633.48V637.56M167.40 615.72h2.6M167.40 637.56h2.6"/>
<rect x="166.55" y="619.56" width="4.30" height="13.92" fill="#fbc5de"/>
<path d="M166.55 626.28h4.30"/>
</g>
<g stroke="#177d98" stroke-width="0.9" fill="none">
<path d="M175.45 621.00V622.68M175.45 633.48V637.56M174.15 621.00h2.6M174.15 637.56h2.6"/>
<rect x="173.30" y="622.68" width="4.30" height="10.80" fill="#1f8fad"/>
<path d="M173.30 629.16h4.30"/>
</g>
<g stroke="#f2892e" stroke-width="0.9" fill="none">
<path d="M182.20 618.60V622.20M182.20 634.92V642.60M180.90 618.60h2.6M180.90 642.60h2.6"/>
<rect x="180.05" y="622.20" width="4.30" height="12.72" fill="#ffb877"/>
<path d="M180.05 626.76h4.30"/>
</g>
<g stroke="#0a960a" stroke-width="0.9" fill="none">
<path d="M188.95 694.44V698.04M188.95 709.32V717.48M187.65 694.44h2.6M187.65 717.48h2.6"/>
<rect x="186.80" y="698.04" width="4.30" height="11.28" fill="#0db30d"/>
<path d="M186.80 704.28h4.30"/>
</g>
<g stroke="#a23fc9" stroke-width="0.9" fill="none">
<path d="M195.70 704.28V706.68M195.70 720.12V724.68M194.40 704.28h2.6M194.40 724.68h2.6"/>
<rect x="193.55" y="706.68" width="4.30" height="13.44" fill="#dc95f2"/>
<path d="M193.55 711.72h4.30"/>
</g>
<g stroke="#e8408f" stroke-width="0.9" fill="none">
<path d="M206.50 614.04V619.56M206.50 638.04V640.92M205.20 614.04h2.6M205.20 640.92h2.6"/>
<rect x="204.35" y="619.56" width="4.30" height="18.48" fill="#fbc5de"/>
<path d="M204.35 630.36h4.30"/>
</g>
<g stroke="#177d98" stroke-width="0.9" fill="none">
<path d="M213.25 614.52V619.08M213.25 635.40V639.48M211.95 614.52h2.6M211.95 639.48h2.6"/>
<rect x="211.10" y="619.08" width="4.30" height="16.32" fill="#1f8fad"/>
<path d="M211.10 627.72h4.30"/>
</g>
<g stroke="#f2892e" stroke-width="0.9" fill="none">
<path d="M220.00 618.12V620.76M220.00 634.44V639.48M218.70 618.12h2.6M218.70 639.48h2.6"/>
<rect x="217.85" y="620.76" width="4.30" height="13.68" fill="#ffb877"/>
<path d="M217.85 627.72h4.30"/>
</g>
<g stroke="#0a960a" stroke-width="0.9" fill="none">
<path d="M226.75 693.48V699.24M226.75 714.36V718.44M225.45 693.48h2.6M225.45 718.44h2.6"/>
<rect x="224.60" y="699.24" width="4.30" height="15.12" fill="#0db30d"/>
<path d="M224.60 708.36h4.30"/>
</g>
<g stroke="#a23fc9" stroke-width="0.9" fill="none">
<path d="M233.50 712.44V715.32M233.50 726.60V731.40M232.20 712.44h2.6M232.20 731.40h2.6"/>
<rect x="231.35" y="715.32" width="4.30" height="11.28" fill="#dc95f2"/>
<path d="M231.35 721.56h4.30"/>
</g>
<rect x="251.6" y="626.40" width="12.8" height="4.2" fill="#fbc5de" stroke="#e8408f" stroke-width="0.9"/>
<text x="272.80" y="631.80" font-size="8.85" font-weight="normal" text-anchor="start" fill="#231f20" >PBS</text>
<rect x="251.6" y="641.30" width="12.8" height="4.2" fill="#1f8fad" stroke="#177d98" stroke-width="0.9"/>
<text x="272.80" y="646.70" font-size="8.85" font-weight="normal" text-anchor="start" fill="#231f20" >HMs</text>
<rect x="251.6" y="656.50" width="12.8" height="4.2" fill="#ffb877" stroke="#f2892e" stroke-width="0.9"/>
<text x="272.80" y="661.90" font-size="8.85" font-weight="normal" text-anchor="start" fill="#231f20" >Phages</text>
<rect x="251.6" y="671.80" width="12.8" height="4.2" fill="#0db30d" stroke="#0a960a" stroke-width="0.9"/>
<text x="272.80" y="677.20" font-size="8.85" font-weight="normal" text-anchor="start" fill="#231f20" >HMs-Phages</text>
<rect x="251.6" y="686.80" width="12.8" height="4.2" fill="#dc95f2" stroke="#a23fc9" stroke-width="0.9"/>
<text x="272.80" y="692.20" font-size="8.85" font-weight="normal" text-anchor="start" fill="#231f20" >CIP</text>
<text x="323.50" y="597.60" font-size="17" font-weight="bold" text-anchor="start" fill="#000" >g</text>
<text x="474.50" y="603.00" font-size="10.33" font-weight="bold" text-anchor="middle" fill="#231f20" >Dynamic change of phages</text>
<path d="M378.6 616.3 V740.6 H565" fill="none" stroke="#231f20" stroke-width="1.8"/>
<line x1="373.50" y1="740.68" x2="378.60" y2="740.68" stroke="#231f20" stroke-width="1.4" />
<text transform="translate(367.20 744.58) scale(0.86 1)" font-size="10.1" font-weight="bold" text-anchor="end" fill="#231f20">10</text>
<text transform="translate(369.00 741.98) scale(0.72 1)" font-size="7.4" font-weight="bold" text-anchor="start" fill="#231f20">3</text>
<line x1="373.50" y1="720.00" x2="378.60" y2="720.00" stroke="#231f20" stroke-width="1.4" />
<text transform="translate(367.20 723.90) scale(0.86 1)" font-size="10.1" font-weight="bold" text-anchor="end" fill="#231f20">10</text>
<text transform="translate(369.00 721.30) scale(0.72 1)" font-size="7.4" font-weight="bold" text-anchor="start" fill="#231f20">4</text>
<line x1="373.50" y1="699.32" x2="378.60" y2="699.32" stroke="#231f20" stroke-width="1.4" />
<text transform="translate(367.20 703.22) scale(0.86 1)" font-size="10.1" font-weight="bold" text-anchor="end" fill="#231f20">10</text>
<text transform="translate(369.00 700.62) scale(0.72 1)" font-size="7.4" font-weight="bold" text-anchor="start" fill="#231f20">5</text>
<line x1="373.50" y1="678.64" x2="378.60" y2="678.64" stroke="#231f20" stroke-width="1.4" />
<text transform="translate(367.20 682.54) scale(0.86 1)" font-size="10.1" font-weight="bold" text-anchor="end" fill="#231f20">10</text>
<text transform="translate(369.00 679.94) scale(0.72 1)" font-size="7.4" font-weight="bold" text-anchor="start" fill="#231f20">6</text>
<line x1="373.50" y1="657.96" x2="378.60" y2="657.96" stroke="#231f20" stroke-width="1.4" />
<text transform="translate(367.20 661.86) scale(0.86 1)" font-size="10.1" font-weight="bold" text-anchor="end" fill="#231f20">10</text>
<text transform="translate(369.00 659.26) scale(0.72 1)" font-size="7.4" font-weight="bold" text-anchor="start" fill="#231f20">7</text>
<line x1="373.50" y1="637.28" x2="378.60" y2="637.28" stroke="#231f20" stroke-width="1.4" />
<text transform="translate(367.20 641.18) scale(0.86 1)" font-size="10.1" font-weight="bold" text-anchor="end" fill="#231f20">10</text>
<text transform="translate(369.00 638.58) scale(0.72 1)" font-size="7.4" font-weight="bold" text-anchor="start" fill="#231f20">8</text>
<line x1="373.50" y1="616.60" x2="378.60" y2="616.60" stroke="#231f20" stroke-width="1.4" />
<text transform="translate(367.20 620.50) scale(0.86 1)" font-size="10.1" font-weight="bold" text-anchor="end" fill="#231f20">10</text>
<text transform="translate(369.00 617.90) scale(0.72 1)" font-size="7.4" font-weight="bold" text-anchor="start" fill="#231f20">9</text>
<line x1="391.90" y1="740.60" x2="391.90" y2="744.80" stroke="#231f20" stroke-width="1.4" />
<text transform="translate(391.90 756.00) scale(0.85 1)" font-size="10.6" font-weight="bold" text-anchor="middle" fill="#231f20">1</text>
<line x1="431.52" y1="740.60" x2="431.52" y2="744.80" stroke="#231f20" stroke-width="1.4" />
<text transform="translate(431.52 756.00) scale(0.85 1)" font-size="10.6" font-weight="bold" text-anchor="middle" fill="#231f20">3</text>
<line x1="471.14" y1="740.60" x2="471.14" y2="744.80" stroke="#231f20" stroke-width="1.4" />
<text transform="translate(471.14 756.00) scale(0.85 1)" font-size="10.6" font-weight="bold" text-anchor="middle" fill="#231f20">5</text>
<line x1="510.76" y1="740.60" x2="510.76" y2="744.80" stroke="#231f20" stroke-width="1.4" />
<text transform="translate(510.76 756.00) scale(0.85 1)" font-size="10.6" font-weight="bold" text-anchor="middle" fill="#231f20">7</text>
<line x1="550.38" y1="740.60" x2="550.38" y2="744.80" stroke="#231f20" stroke-width="1.4" />
<text transform="translate(550.38 756.00) scale(0.85 1)" font-size="10.6" font-weight="bold" text-anchor="middle" fill="#231f20">9</text>
<text x="471.60" y="773.60" font-size="10.3" font-weight="bold" text-anchor="middle" fill="#231f20" >Time (day)</text>
<text transform="translate(350.7 678) rotate(-90)" font-size="9.45" font-weight="bold" text-anchor="middle" fill="#231f20">Phage counts (PFU/g)</text>
<g stroke="#f2892e" stroke-width="0.9" fill="none">
<path d="M424.82 689.60V694.77M424.82 709.45V716.07M423.52 689.60h2.6M423.52 716.07h2.6"/>
<rect x="422.12" y="694.77" width="5.40" height="14.68" fill="#ffb877"/>
<path d="M422.12 702.22h5.40"/>
</g>
<g stroke="#0a960a" stroke-width="0.9" fill="none">
<path d="M438.22 632.94V639.35M438.22 657.13V663.34M436.92 632.94h2.6M436.92 663.34h2.6"/>
<rect x="435.52" y="639.35" width="5.40" height="17.78" fill="#0db30d"/>
<path d="M435.52 648.24h5.40"/>
</g>
<g stroke="#f2892e" stroke-width="0.9" fill="none">
<path d="M464.44 681.74V687.53M464.44 705.94V711.73M463.14 681.74h2.6M463.14 711.73h2.6"/>
<rect x="461.74" y="687.53" width="5.40" height="18.41" fill="#ffb877"/>
<path d="M461.74 699.32h5.40"/>
</g>
<g stroke="#0a960a" stroke-width="0.9" fill="none">
<path d="M477.84 643.69V649.48M477.84 664.16V669.95M476.54 643.69h2.6M476.54 669.95h2.6"/>
<rect x="475.14" y="649.48" width="5.40" height="14.68" fill="#0db30d"/>
<path d="M475.14 659.82h5.40"/>
</g>
<g stroke="#f2892e" stroke-width="0.9" fill="none">
<path d="M504.06 692.50V697.67M504.06 716.69V723.10M502.76 692.50h2.6M502.76 723.10h2.6"/>
<rect x="501.36" y="697.67" width="5.40" height="19.03" fill="#ffb877"/>
<path d="M501.36 707.39h5.40"/>
</g>
<g stroke="#0a960a" stroke-width="0.9" fill="none">
<path d="M517.46 632.94V636.45M517.46 653.00V657.75M516.16 632.94h2.6M516.16 657.75h2.6"/>
<rect x="514.76" y="636.45" width="5.40" height="16.54" fill="#0db30d"/>
<path d="M514.76 645.76h5.40"/>
</g>
<g stroke="#f2892e" stroke-width="0.9" fill="none">
<path d="M543.68 694.77V698.29M543.68 713.18V717.31M542.38 694.77h2.6M542.38 717.31h2.6"/>
<rect x="540.98" y="698.29" width="5.40" height="14.89" fill="#ffb877"/>
<path d="M540.98 705.11h5.40"/>
</g>
<g stroke="#0a960a" stroke-width="0.9" fill="none">
<path d="M557.08 630.66V636.45M557.08 652.58V654.65M555.78 630.66h2.6M555.78 654.65h2.6"/>
<rect x="554.38" y="636.45" width="5.40" height="16.13" fill="#0db30d"/>
<path d="M554.38 644.72h5.40"/>
</g>
<rect x="593.2" y="622.50" width="12.6" height="5.4" fill="#ffb877" stroke="#f2892e" stroke-width="0.9"/>
<text x="613.80" y="629.20" font-size="10.3" font-weight="normal" text-anchor="start" fill="#231f20" >Phages</text>
<rect x="593.2" y="638.90" width="12.6" height="5.4" fill="#0db30d" stroke="#0a960a" stroke-width="0.9"/>
<text x="613.80" y="645.60" font-size="10.3" font-weight="normal" text-anchor="start" fill="#231f20" >HMs-Phages</text>
</g></svg>
</body></html>
